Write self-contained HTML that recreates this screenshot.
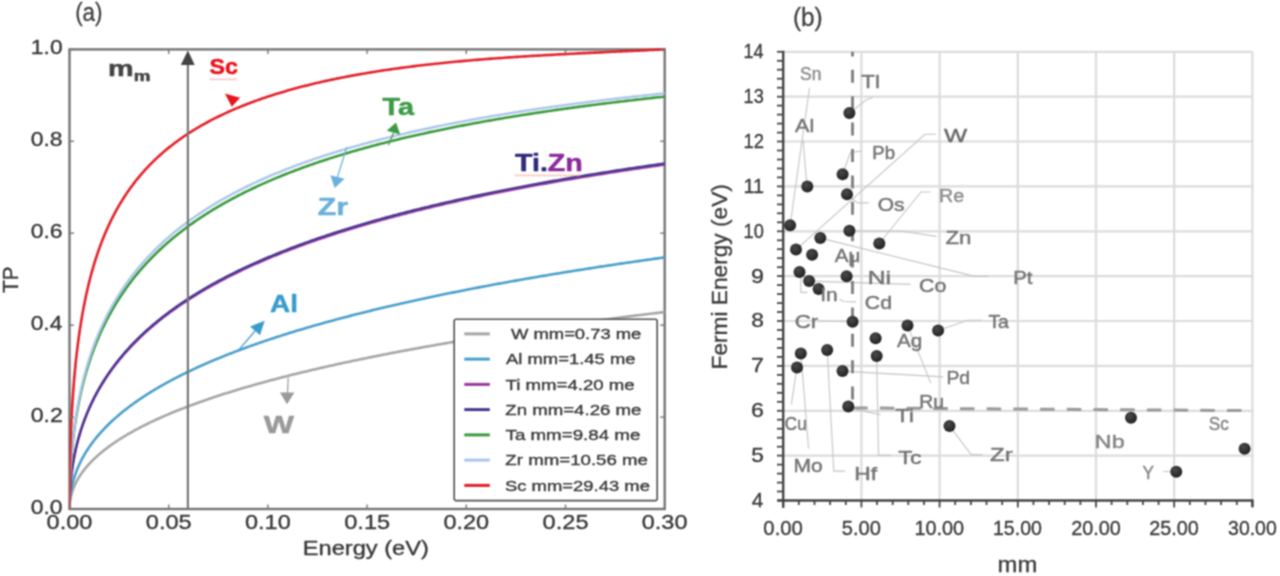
<!DOCTYPE html>
<html><head><meta charset="utf-8"><style>
html,body{margin:0;padding:0;background:#fff;}
svg{display:block;}
text{font-family:"Liberation Sans",sans-serif;}
</style></head><body>
<svg width="1280" height="576" viewBox="0 0 1280 576">
<defs><filter id="soft" filterUnits="userSpaceOnUse" x="0" y="0" width="1280" height="576" color-interpolation-filters="sRGB"><feConvolveMatrix order="3" kernelMatrix="1 2 1 2 4 2 1 2 1" divisor="16.0" edgeMode="duplicate"/></filter></defs>
<g filter="url(#soft)">
<rect width="1280" height="576" fill="#fff"/>
<defs><clipPath id="ca"><rect x="69.5" y="47.4" width="595.2" height="461.6"/></clipPath><radialGradient id="dot" cx="40%" cy="35%" r="65%"><stop offset="0" stop-color="#4a4a4a"/><stop offset="1" stop-color="#222"/></radialGradient></defs>
<text x="75.15" y="20.84" font-size="25.53" stroke="#404040" stroke-width="0.3" stroke-linejoin="round" fill="#404040" textLength="27.44" lengthAdjust="spacingAndGlyphs">(a)</text>
<rect x="69.5" y="49.4" width="595.2" height="459.6" fill="none" stroke="#767676" stroke-width="2.4"/>
<g clip-path="url(#ca)" fill="none" stroke-linejoin="round" stroke-linecap="round">
<path d="M69.50,509.00 L69.50,508.35 L69.51,507.69 L69.53,507.04 L69.56,506.39 L69.59,505.74 L69.63,505.09 L69.68,504.45 L69.74,503.80 L69.80,503.15 L69.87,502.51 L69.95,501.86 L70.04,501.22 L70.13,500.58 L70.23,499.94 L70.34,499.30 L70.46,498.66 L70.58,498.02 L70.71,497.38 L70.85,496.74 L71.00,496.11 L71.15,495.47 L71.31,494.84 L71.48,494.21 L71.65,493.57 L71.84,492.94 L72.03,492.31 L72.23,491.68 L72.43,491.05 L72.64,490.43 L72.86,489.80 L73.09,489.17 L73.33,488.55 L73.57,487.92 L73.82,487.30 L74.08,486.68 L74.35,486.06 L74.62,485.44 L74.90,484.82 L75.19,484.20 L75.48,483.58 L75.78,482.96 L76.10,482.35 L76.41,481.73 L76.74,481.12 L77.07,480.51 L77.41,479.89 L77.76,479.28 L78.11,478.67 L78.48,478.06 L78.85,477.45 L79.22,476.84 L79.61,476.24 L80.00,475.63 L80.40,475.02 L80.81,474.42 L81.22,473.82 L81.65,473.21 L82.08,472.61 L82.51,472.01 L82.96,471.41 L83.41,470.81 L83.87,470.21 L84.34,469.62 L84.81,469.02 L85.30,468.42 L85.79,467.83 L86.28,467.23 L86.79,466.64 L87.30,466.05 L87.82,465.46 L88.35,464.87 L88.88,464.28 L89.42,463.69 L89.97,463.10 L90.53,462.51 L91.09,461.93 L91.67,461.34 L92.25,460.76 L92.83,460.17 L93.43,459.59 L94.03,459.01 L94.64,458.43 L95.26,457.84 L95.88,457.27 L96.51,456.69 L97.15,456.11 L97.80,455.53 L98.45,454.96 L99.11,454.38 L99.78,453.81 L100.46,453.23 L101.14,452.66 L101.84,452.09 L102.53,451.52 L103.24,450.95 L103.96,450.38 L104.68,449.81 L105.41,449.24 L106.14,448.67 L106.89,448.11 L107.64,447.54 L108.40,446.98 L109.16,446.41 L109.94,445.85 L110.72,445.29 L111.51,444.73 L112.30,444.17 L113.11,443.61 L113.92,443.05 L114.74,442.49 L115.56,441.94 L116.40,441.38 L117.24,440.82 L118.09,440.27 L118.94,439.72 L119.81,439.16 L120.68,438.61 L121.56,438.06 L122.44,437.51 L123.34,436.96 L124.24,436.41 L125.15,435.86 L126.06,435.32 L126.99,434.77 L127.92,434.22 L128.86,433.68 L129.80,433.14 L130.75,432.59 L131.72,432.05 L132.68,431.51 L133.66,430.97 L134.64,430.43 L135.63,429.89 L136.63,429.35 L137.64,428.81 L138.65,428.28 L139.67,427.74 L140.70,427.21 L141.73,426.67 L142.78,426.14 L143.83,425.61 L144.89,425.07 L145.95,424.54 L147.03,424.01 L148.11,423.48 L149.19,422.95 L150.29,422.43 L151.39,421.90 L152.50,421.37 L153.62,420.85 L154.75,420.32 L155.88,419.80 L157.02,419.27 L158.17,418.75 L159.32,418.23 L160.48,417.71 L161.65,417.19 L162.83,416.67 L164.02,416.15 L165.21,415.63 L166.41,415.12 L167.62,414.60 L168.83,414.09 L170.06,413.57 L171.29,413.06 L172.52,412.54 L173.77,412.03 L175.02,411.52 L176.28,411.01 L177.55,410.50 L178.82,409.99 L180.10,409.48 L181.39,408.97 L182.69,408.47 L184.00,407.96 L185.31,407.45 L186.63,406.95 L187.96,406.45 L189.29,405.94 L190.63,405.44 L191.98,404.94 L193.34,404.44 L194.70,403.94 L196.08,403.44 L197.46,402.94 L198.84,402.44 L200.24,401.94 L201.64,401.45 L203.05,400.95 L204.47,400.46 L205.89,399.96 L207.32,399.47 L208.76,398.98 L210.21,398.49 L211.66,397.99 L213.12,397.50 L214.59,397.01 L216.07,396.52 L217.56,396.04 L219.05,395.55 L220.55,395.06 L222.05,394.58 L223.57,394.09 L225.09,393.61 L226.62,393.12 L228.15,392.64 L229.70,392.16 L231.25,391.68 L232.81,391.19 L234.38,390.71 L235.95,390.24 L237.53,389.76 L239.12,389.28 L240.72,388.80 L242.32,388.32 L243.93,387.85 L245.55,387.37 L247.18,386.90 L248.81,386.43 L250.45,385.95 L252.10,385.48 L253.76,385.01 L255.42,384.54 L257.09,384.07 L258.77,383.60 L260.46,383.13 L262.15,382.66 L263.85,382.20 L265.56,381.73 L267.28,381.26 L269.00,380.80 L270.73,380.33 L272.47,379.87 L274.21,379.41 L275.97,378.95 L277.73,378.48 L279.50,378.02 L281.27,377.56 L283.06,377.10 L284.85,376.65 L286.65,376.19 L288.45,375.73 L290.26,375.27 L292.09,374.82 L293.91,374.36 L295.75,373.91 L297.59,373.45 L299.44,373.00 L301.30,372.55 L303.17,372.10 L305.04,371.65 L306.92,371.20 L308.81,370.75 L310.70,370.30 L312.61,369.85 L314.52,369.40 L316.44,368.95 L318.36,368.51 L320.29,368.06 L322.23,367.62 L324.18,367.17 L326.14,366.73 L328.10,366.29 L330.07,365.85 L332.05,365.40 L334.03,364.96 L336.03,364.52 L338.03,364.08 L340.03,363.64 L342.05,363.21 L344.07,362.77 L346.10,362.33 L348.14,361.90 L350.18,361.46 L352.24,361.03 L354.30,360.59 L356.36,360.16 L358.44,359.73 L360.52,359.29 L362.61,358.86 L364.71,358.43 L366.81,358.00 L368.93,357.57 L371.05,357.14 L373.17,356.72 L375.31,356.29 L377.45,355.86 L379.60,355.44 L381.76,355.01 L383.92,354.59 L386.09,354.16 L388.27,353.74 L390.46,353.32 L392.66,352.89 L394.86,352.47 L397.07,352.05 L399.28,351.63 L401.51,351.21 L403.74,350.79 L405.98,350.37 L408.23,349.96 L410.48,349.54 L412.74,349.12 L415.01,348.71 L417.29,348.29 L419.57,347.88 L421.87,347.47 L424.17,347.05 L426.47,346.64 L428.79,346.23 L431.11,345.82 L433.44,345.41 L435.77,345.00 L438.12,344.59 L440.47,344.18 L442.83,343.77 L445.20,343.36 L447.57,342.96 L449.95,342.55 L452.34,342.15 L454.74,341.74 L457.14,341.34 L459.55,340.93 L461.97,340.53 L464.40,340.13 L466.83,339.73 L469.27,339.33 L471.72,338.92 L474.18,338.52 L476.64,338.13 L479.11,337.73 L481.59,337.33 L484.08,336.93 L486.57,336.54 L489.07,336.14 L491.58,335.74 L494.10,335.35 L496.62,334.95 L499.15,334.56 L501.69,334.17 L504.24,333.78 L506.79,333.38 L509.35,332.99 L511.92,332.60 L514.50,332.21 L517.08,331.82 L519.67,331.43 L522.27,331.05 L524.87,330.66 L527.49,330.27 L530.11,329.89 L532.74,329.50 L535.37,329.11 L538.02,328.73 L540.67,328.35 L543.32,327.96 L545.99,327.58 L548.66,327.20 L551.34,326.82 L554.03,326.44 L556.73,326.06 L559.43,325.68 L562.14,325.30 L564.86,324.92 L567.58,324.54 L570.32,324.16 L573.06,323.79 L575.81,323.41 L578.56,323.03 L581.32,322.66 L584.09,322.28 L586.87,321.91 L589.66,321.54 L592.45,321.16 L595.25,320.79 L598.06,320.42 L600.87,320.05 L603.70,319.68 L606.53,319.31 L609.36,318.94 L612.21,318.57 L615.06,318.20 L617.92,317.84 L620.79,317.47 L623.66,317.10 L626.55,316.74 L629.44,316.37 L632.33,316.01 L635.24,315.64 L638.15,315.28 L641.07,314.92 L644.00,314.56 L646.93,314.19 L649.88,313.83 L652.83,313.47 L655.78,313.11 L658.75,312.75 L661.72,312.39 L664.70,312.04" stroke="#a6a6a6" stroke-width="2.6"/>
<path d="M69.50,509.00 L69.50,508.09 L69.51,507.17 L69.53,506.26 L69.56,505.35 L69.59,504.45 L69.63,503.54 L69.68,502.64 L69.74,501.74 L69.80,500.84 L69.87,499.94 L69.95,499.04 L70.04,498.15 L70.13,497.25 L70.23,496.36 L70.34,495.47 L70.46,494.59 L70.58,493.70 L70.71,492.82 L70.85,491.94 L71.00,491.05 L71.15,490.18 L71.31,489.30 L71.48,488.42 L71.65,487.55 L71.84,486.68 L72.03,485.81 L72.23,484.94 L72.43,484.07 L72.64,483.21 L72.86,482.35 L73.09,481.49 L73.33,480.63 L73.57,479.77 L73.82,478.91 L74.08,478.06 L74.35,477.20 L74.62,476.35 L74.90,475.50 L75.19,474.66 L75.48,473.81 L75.78,472.97 L76.10,472.12 L76.41,471.28 L76.74,470.44 L77.07,469.61 L77.41,468.77 L77.76,467.94 L78.11,467.10 L78.48,466.27 L78.85,465.44 L79.22,464.62 L79.61,463.79 L80.00,462.97 L80.40,462.14 L80.81,461.32 L81.22,460.50 L81.65,459.68 L82.08,458.87 L82.51,458.05 L82.96,457.24 L83.41,456.43 L83.87,455.62 L84.34,454.81 L84.81,454.01 L85.30,453.20 L85.79,452.40 L86.28,451.60 L86.79,450.80 L87.30,450.00 L87.82,449.20 L88.35,448.41 L88.88,447.61 L89.42,446.82 L89.97,446.03 L90.53,445.24 L91.09,444.45 L91.67,443.67 L92.25,442.88 L92.83,442.10 L93.43,441.32 L94.03,440.54 L94.64,439.76 L95.26,438.99 L95.88,438.21 L96.51,437.44 L97.15,436.67 L97.80,435.90 L98.45,435.13 L99.11,434.36 L99.78,433.59 L100.46,432.83 L101.14,432.07 L101.84,431.31 L102.53,430.55 L103.24,429.79 L103.96,429.03 L104.68,428.28 L105.41,427.52 L106.14,426.77 L106.89,426.02 L107.64,425.27 L108.40,424.53 L109.16,423.78 L109.94,423.04 L110.72,422.29 L111.51,421.55 L112.30,420.81 L113.11,420.07 L113.92,419.34 L114.74,418.60 L115.56,417.87 L116.40,417.13 L117.24,416.40 L118.09,415.67 L118.94,414.94 L119.81,414.22 L120.68,413.49 L121.56,412.77 L122.44,412.04 L123.34,411.32 L124.24,410.60 L125.15,409.89 L126.06,409.17 L126.99,408.45 L127.92,407.74 L128.86,407.03 L129.80,406.32 L130.75,405.61 L131.72,404.90 L132.68,404.19 L133.66,403.49 L134.64,402.78 L135.63,402.08 L136.63,401.38 L137.64,400.68 L138.65,399.98 L139.67,399.28 L140.70,398.59 L141.73,397.89 L142.78,397.20 L143.83,396.51 L144.89,395.82 L145.95,395.13 L147.03,394.44 L148.11,393.76 L149.19,393.07 L150.29,392.39 L151.39,391.71 L152.50,391.03 L153.62,390.35 L154.75,389.67 L155.88,389.00 L157.02,388.32 L158.17,387.65 L159.32,386.98 L160.48,386.30 L161.65,385.63 L162.83,384.97 L164.02,384.30 L165.21,383.63 L166.41,382.97 L167.62,382.31 L168.83,381.65 L170.06,380.98 L171.29,380.33 L172.52,379.67 L173.77,379.01 L175.02,378.36 L176.28,377.70 L177.55,377.05 L178.82,376.40 L180.10,375.75 L181.39,375.10 L182.69,374.45 L184.00,373.81 L185.31,373.16 L186.63,372.52 L187.96,371.88 L189.29,371.24 L190.63,370.60 L191.98,369.96 L193.34,369.32 L194.70,368.69 L196.08,368.05 L197.46,367.42 L198.84,366.79 L200.24,366.16 L201.64,365.53 L203.05,364.90 L204.47,364.27 L205.89,363.65 L207.32,363.02 L208.76,362.40 L210.21,361.78 L211.66,361.16 L213.12,360.54 L214.59,359.92 L216.07,359.30 L217.56,358.69 L219.05,358.08 L220.55,357.46 L222.05,356.85 L223.57,356.24 L225.09,355.63 L226.62,355.02 L228.15,354.41 L229.70,353.81 L231.25,353.20 L232.81,352.60 L234.38,352.00 L235.95,351.40 L237.53,350.80 L239.12,350.20 L240.72,349.60 L242.32,349.01 L243.93,348.41 L245.55,347.82 L247.18,347.23 L248.81,346.63 L250.45,346.04 L252.10,345.45 L253.76,344.87 L255.42,344.28 L257.09,343.69 L258.77,343.11 L260.46,342.53 L262.15,341.95 L263.85,341.36 L265.56,340.78 L267.28,340.21 L269.00,339.63 L270.73,339.05 L272.47,338.48 L274.21,337.90 L275.97,337.33 L277.73,336.76 L279.50,336.19 L281.27,335.62 L283.06,335.05 L284.85,334.49 L286.65,333.92 L288.45,333.35 L290.26,332.79 L292.09,332.23 L293.91,331.67 L295.75,331.11 L297.59,330.55 L299.44,329.99 L301.30,329.43 L303.17,328.88 L305.04,328.32 L306.92,327.77 L308.81,327.22 L310.70,326.67 L312.61,326.12 L314.52,325.57 L316.44,325.02 L318.36,324.47 L320.29,323.93 L322.23,323.38 L324.18,322.84 L326.14,322.29 L328.10,321.75 L330.07,321.21 L332.05,320.67 L334.03,320.14 L336.03,319.60 L338.03,319.06 L340.03,318.53 L342.05,317.99 L344.07,317.46 L346.10,316.93 L348.14,316.40 L350.18,315.87 L352.24,315.34 L354.30,314.81 L356.36,314.29 L358.44,313.76 L360.52,313.24 L362.61,312.71 L364.71,312.19 L366.81,311.67 L368.93,311.15 L371.05,310.63 L373.17,310.11 L375.31,309.60 L377.45,309.08 L379.60,308.57 L381.76,308.05 L383.92,307.54 L386.09,307.03 L388.27,306.52 L390.46,306.01 L392.66,305.50 L394.86,304.99 L397.07,304.48 L399.28,303.98 L401.51,303.47 L403.74,302.97 L405.98,302.47 L408.23,301.96 L410.48,301.46 L412.74,300.96 L415.01,300.47 L417.29,299.97 L419.57,299.47 L421.87,298.98 L424.17,298.48 L426.47,297.99 L428.79,297.49 L431.11,297.00 L433.44,296.51 L435.77,296.02 L438.12,295.53 L440.47,295.05 L442.83,294.56 L445.20,294.07 L447.57,293.59 L449.95,293.10 L452.34,292.62 L454.74,292.14 L457.14,291.66 L459.55,291.18 L461.97,290.70 L464.40,290.22 L466.83,289.74 L469.27,289.27 L471.72,288.79 L474.18,288.32 L476.64,287.85 L479.11,287.37 L481.59,286.90 L484.08,286.43 L486.57,285.96 L489.07,285.49 L491.58,285.03 L494.10,284.56 L496.62,284.09 L499.15,283.63 L501.69,283.17 L504.24,282.70 L506.79,282.24 L509.35,281.78 L511.92,281.32 L514.50,280.86 L517.08,280.40 L519.67,279.94 L522.27,279.49 L524.87,279.03 L527.49,278.58 L530.11,278.12 L532.74,277.67 L535.37,277.22 L538.02,276.77 L540.67,276.32 L543.32,275.87 L545.99,275.42 L548.66,274.97 L551.34,274.53 L554.03,274.08 L556.73,273.64 L559.43,273.19 L562.14,272.75 L564.86,272.31 L567.58,271.87 L570.32,271.43 L573.06,270.99 L575.81,270.55 L578.56,270.11 L581.32,269.67 L584.09,269.24 L586.87,268.80 L589.66,268.37 L592.45,267.94 L595.25,267.50 L598.06,267.07 L600.87,266.64 L603.70,266.21 L606.53,265.78 L609.36,265.35 L612.21,264.93 L615.06,264.50 L617.92,264.07 L620.79,263.65 L623.66,263.23 L626.55,262.80 L629.44,262.38 L632.33,261.96 L635.24,261.54 L638.15,261.12 L641.07,260.70 L644.00,260.28 L646.93,259.87 L649.88,259.45 L652.83,259.03 L655.78,258.62 L658.75,258.21 L661.72,257.79 L664.70,257.38" stroke="#4a9fcb" stroke-width="2.6"/>
<path d="M69.50,509.00 L69.50,507.44 L69.51,505.89 L69.53,504.34 L69.56,502.80 L69.59,501.27 L69.63,499.73 L69.68,498.21 L69.74,496.69 L69.80,495.17 L69.87,493.66 L69.95,492.16 L70.04,490.66 L70.13,489.16 L70.23,487.67 L70.34,486.18 L70.46,484.70 L70.58,483.23 L70.71,481.76 L70.85,480.29 L71.00,478.83 L71.15,477.38 L71.31,475.93 L71.48,474.48 L71.65,473.04 L71.84,471.61 L72.03,470.17 L72.23,468.75 L72.43,467.33 L72.64,465.91 L72.86,464.50 L73.09,463.09 L73.33,461.69 L73.57,460.29 L73.82,458.90 L74.08,457.51 L74.35,456.13 L74.62,454.75 L74.90,453.37 L75.19,452.00 L75.48,450.64 L75.78,449.28 L76.10,447.92 L76.41,446.57 L76.74,445.22 L77.07,443.88 L77.41,442.54 L77.76,441.21 L78.11,439.88 L78.48,438.56 L78.85,437.24 L79.22,435.92 L79.61,434.61 L80.00,433.30 L80.40,432.00 L80.81,430.70 L81.22,429.41 L81.65,428.12 L82.08,426.84 L82.51,425.56 L82.96,424.28 L83.41,423.01 L83.87,421.74 L84.34,420.48 L84.81,419.22 L85.30,417.96 L85.79,416.71 L86.28,415.46 L86.79,414.22 L87.30,412.98 L87.82,411.75 L88.35,410.52 L88.88,409.29 L89.42,408.07 L89.97,406.85 L90.53,405.64 L91.09,404.43 L91.67,403.22 L92.25,402.02 L92.83,400.82 L93.43,399.63 L94.03,398.44 L94.64,397.25 L95.26,396.07 L95.88,394.89 L96.51,393.72 L97.15,392.55 L97.80,391.38 L98.45,390.22 L99.11,389.06 L99.78,387.91 L100.46,386.76 L101.14,385.61 L101.84,384.47 L102.53,383.33 L103.24,382.19 L103.96,381.06 L104.68,379.93 L105.41,378.81 L106.14,377.69 L106.89,376.57 L107.64,375.46 L108.40,374.35 L109.16,373.24 L109.94,372.14 L110.72,371.04 L111.51,369.95 L112.30,368.86 L113.11,367.77 L113.92,366.69 L114.74,365.61 L115.56,364.53 L116.40,363.46 L117.24,362.39 L118.09,361.32 L118.94,360.26 L119.81,359.20 L120.68,358.15 L121.56,357.09 L122.44,356.04 L123.34,355.00 L124.24,353.96 L125.15,352.92 L126.06,351.89 L126.99,350.85 L127.92,349.83 L128.86,348.80 L129.80,347.78 L130.75,346.76 L131.72,345.75 L132.68,344.74 L133.66,343.73 L134.64,342.73 L135.63,341.73 L136.63,340.73 L137.64,339.74 L138.65,338.74 L139.67,337.76 L140.70,336.77 L141.73,335.79 L142.78,334.81 L143.83,333.84 L144.89,332.87 L145.95,331.90 L147.03,330.93 L148.11,329.97 L149.19,329.01 L150.29,328.06 L151.39,327.11 L152.50,326.16 L153.62,325.21 L154.75,324.27 L155.88,323.33 L157.02,322.39 L158.17,321.46 L159.32,320.53 L160.48,319.60 L161.65,318.68 L162.83,317.75 L164.02,316.84 L165.21,315.92 L166.41,315.01 L167.62,314.10 L168.83,313.19 L170.06,312.29 L171.29,311.39 L172.52,310.49 L173.77,309.60 L175.02,308.71 L176.28,307.82 L177.55,306.93 L178.82,306.05 L180.10,305.17 L181.39,304.29 L182.69,303.42 L184.00,302.55 L185.31,301.68 L186.63,300.81 L187.96,299.95 L189.29,299.09 L190.63,298.23 L191.98,297.38 L193.34,296.53 L194.70,295.68 L196.08,294.83 L197.46,293.99 L198.84,293.15 L200.24,292.31 L201.64,291.48 L203.05,290.65 L204.47,289.82 L205.89,288.99 L207.32,288.17 L208.76,287.35 L210.21,286.53 L211.66,285.71 L213.12,284.90 L214.59,284.09 L216.07,283.28 L217.56,282.48 L219.05,281.68 L220.55,280.88 L222.05,280.08 L223.57,279.28 L225.09,278.49 L226.62,277.70 L228.15,276.92 L229.70,276.13 L231.25,275.35 L232.81,274.57 L234.38,273.80 L235.95,273.02 L237.53,272.25 L239.12,271.48 L240.72,270.72 L242.32,269.95 L243.93,269.19 L245.55,268.43 L247.18,267.68 L248.81,266.92 L250.45,266.17 L252.10,265.42 L253.76,264.68 L255.42,263.93 L257.09,263.19 L258.77,262.45 L260.46,261.72 L262.15,260.98 L263.85,260.25 L265.56,259.52 L267.28,258.79 L269.00,258.07 L270.73,257.35 L272.47,256.63 L274.21,255.91 L275.97,255.19 L277.73,254.48 L279.50,253.77 L281.27,253.06 L283.06,252.36 L284.85,251.65 L286.65,250.95 L288.45,250.25 L290.26,249.56 L292.09,248.86 L293.91,248.17 L295.75,247.48 L297.59,246.79 L299.44,246.11 L301.30,245.42 L303.17,244.74 L305.04,244.06 L306.92,243.39 L308.81,242.71 L310.70,242.04 L312.61,241.37 L314.52,240.70 L316.44,240.04 L318.36,239.38 L320.29,238.71 L322.23,238.06 L324.18,237.40 L326.14,236.74 L328.10,236.09 L330.07,235.44 L332.05,234.79 L334.03,234.15 L336.03,233.50 L338.03,232.86 L340.03,232.22 L342.05,231.58 L344.07,230.95 L346.10,230.31 L348.14,229.68 L350.18,229.05 L352.24,228.43 L354.30,227.80 L356.36,227.18 L358.44,226.56 L360.52,225.94 L362.61,225.32 L364.71,224.70 L366.81,224.09 L368.93,223.48 L371.05,222.87 L373.17,222.26 L375.31,221.66 L377.45,221.06 L379.60,220.45 L381.76,219.85 L383.92,219.26 L386.09,218.66 L388.27,218.07 L390.46,217.48 L392.66,216.89 L394.86,216.30 L397.07,215.71 L399.28,215.13 L401.51,214.55 L403.74,213.97 L405.98,213.39 L408.23,212.81 L410.48,212.24 L412.74,211.67 L415.01,211.10 L417.29,210.53 L419.57,209.96 L421.87,209.40 L424.17,208.83 L426.47,208.27 L428.79,207.71 L431.11,207.15 L433.44,206.60 L435.77,206.04 L438.12,205.49 L440.47,204.94 L442.83,204.39 L445.20,203.85 L447.57,203.30 L449.95,202.76 L452.34,202.22 L454.74,201.68 L457.14,201.14 L459.55,200.60 L461.97,200.07 L464.40,199.54 L466.83,199.00 L469.27,198.48 L471.72,197.95 L474.18,197.42 L476.64,196.90 L479.11,196.38 L481.59,195.86 L484.08,195.34 L486.57,194.82 L489.07,194.30 L491.58,193.79 L494.10,193.28 L496.62,192.77 L499.15,192.26 L501.69,191.75 L504.24,191.24 L506.79,190.74 L509.35,190.24 L511.92,189.74 L514.50,189.24 L517.08,188.74 L519.67,188.25 L522.27,187.75 L524.87,187.26 L527.49,186.77 L530.11,186.28 L532.74,185.79 L535.37,185.31 L538.02,184.82 L540.67,184.34 L543.32,183.86 L545.99,183.38 L548.66,182.90 L551.34,182.42 L554.03,181.95 L556.73,181.47 L559.43,181.00 L562.14,180.53 L564.86,180.06 L567.58,179.59 L570.32,179.13 L573.06,178.66 L575.81,178.20 L578.56,177.74 L581.32,177.28 L584.09,176.82 L586.87,176.37 L589.66,175.91 L592.45,175.46 L595.25,175.00 L598.06,174.55 L600.87,174.10 L603.70,173.66 L606.53,173.21 L609.36,172.76 L612.21,172.32 L615.06,171.88 L617.92,171.44 L620.79,171.00 L623.66,170.56 L626.55,170.12 L629.44,169.69 L632.33,169.26 L635.24,168.82 L638.15,168.39 L641.07,167.96 L644.00,167.54 L646.93,167.11 L649.88,166.68 L652.83,166.26 L655.78,165.84 L658.75,165.42 L661.72,165.00 L664.70,164.58" stroke="#9a3aa0" stroke-width="2.6"/>
<path d="M69.50,509.00 L69.50,507.43 L69.51,505.87 L69.53,504.31 L69.56,502.76 L69.59,501.21 L69.63,499.67 L69.68,498.13 L69.74,496.60 L69.80,495.08 L69.87,493.55 L69.95,492.04 L70.04,490.53 L70.13,489.02 L70.23,487.52 L70.34,486.03 L70.46,484.54 L70.58,483.05 L70.71,481.57 L70.85,480.10 L71.00,478.63 L71.15,477.16 L71.31,475.70 L71.48,474.25 L71.65,472.80 L71.84,471.35 L72.03,469.91 L72.23,468.47 L72.43,467.04 L72.64,465.62 L72.86,464.20 L73.09,462.78 L73.33,461.37 L73.57,459.96 L73.82,458.56 L74.08,457.17 L74.35,455.77 L74.62,454.39 L74.90,453.00 L75.19,451.62 L75.48,450.25 L75.78,448.88 L76.10,447.52 L76.41,446.16 L76.74,444.80 L77.07,443.45 L77.41,442.11 L77.76,440.77 L78.11,439.43 L78.48,438.10 L78.85,436.77 L79.22,435.45 L79.61,434.13 L80.00,432.81 L80.40,431.50 L80.81,430.20 L81.22,428.90 L81.65,427.60 L82.08,426.31 L82.51,425.02 L82.96,423.74 L83.41,422.46 L83.87,421.18 L84.34,419.91 L84.81,418.64 L85.30,417.38 L85.79,416.12 L86.28,414.87 L86.79,413.62 L87.30,412.38 L87.82,411.13 L88.35,409.90 L88.88,408.66 L89.42,407.44 L89.97,406.21 L90.53,404.99 L91.09,403.77 L91.67,402.56 L92.25,401.35 L92.83,400.15 L93.43,398.95 L94.03,397.75 L94.64,396.56 L95.26,395.37 L95.88,394.19 L96.51,393.01 L97.15,391.83 L97.80,390.66 L98.45,389.49 L99.11,388.33 L99.78,387.17 L100.46,386.01 L101.14,384.86 L101.84,383.71 L102.53,382.57 L103.24,381.43 L103.96,380.29 L104.68,379.16 L105.41,378.03 L106.14,376.90 L106.89,375.78 L107.64,374.66 L108.40,373.54 L109.16,372.43 L109.94,371.33 L110.72,370.22 L111.51,369.12 L112.30,368.03 L113.11,366.94 L113.92,365.85 L114.74,364.76 L115.56,363.68 L116.40,362.60 L117.24,361.53 L118.09,360.46 L118.94,359.39 L119.81,358.33 L120.68,357.27 L121.56,356.21 L122.44,355.16 L123.34,354.11 L124.24,353.06 L125.15,352.02 L126.06,350.98 L126.99,349.94 L127.92,348.91 L128.86,347.88 L129.80,346.86 L130.75,345.84 L131.72,344.82 L132.68,343.80 L133.66,342.79 L134.64,341.78 L135.63,340.78 L136.63,339.78 L137.64,338.78 L138.65,337.78 L139.67,336.79 L140.70,335.80 L141.73,334.82 L142.78,333.84 L143.83,332.86 L144.89,331.88 L145.95,330.91 L147.03,329.94 L148.11,328.98 L149.19,328.02 L150.29,327.06 L151.39,326.10 L152.50,325.15 L153.62,324.20 L154.75,323.25 L155.88,322.31 L157.02,321.37 L158.17,320.43 L159.32,319.50 L160.48,318.57 L161.65,317.64 L162.83,316.72 L164.02,315.79 L165.21,314.88 L166.41,313.96 L167.62,313.05 L168.83,312.14 L170.06,311.23 L171.29,310.33 L172.52,309.43 L173.77,308.53 L175.02,307.64 L176.28,306.75 L177.55,305.86 L178.82,304.97 L180.10,304.09 L181.39,303.21 L182.69,302.33 L184.00,301.46 L185.31,300.59 L186.63,299.72 L187.96,298.85 L189.29,297.99 L190.63,297.13 L191.98,296.28 L193.34,295.42 L194.70,294.57 L196.08,293.72 L197.46,292.88 L198.84,292.04 L200.24,291.20 L201.64,290.36 L203.05,289.52 L204.47,288.69 L205.89,287.86 L207.32,287.04 L208.76,286.22 L210.21,285.39 L211.66,284.58 L213.12,283.76 L214.59,282.95 L216.07,282.14 L217.56,281.33 L219.05,280.53 L220.55,279.73 L222.05,278.93 L223.57,278.13 L225.09,277.34 L226.62,276.55 L228.15,275.76 L229.70,274.97 L231.25,274.19 L232.81,273.41 L234.38,272.63 L235.95,271.85 L237.53,271.08 L239.12,270.31 L240.72,269.54 L242.32,268.78 L243.93,268.01 L245.55,267.25 L247.18,266.50 L248.81,265.74 L250.45,264.99 L252.10,264.24 L253.76,263.49 L255.42,262.74 L257.09,262.00 L258.77,261.26 L260.46,260.52 L262.15,259.79 L263.85,259.05 L265.56,258.32 L267.28,257.59 L269.00,256.87 L270.73,256.14 L272.47,255.42 L274.21,254.70 L275.97,253.99 L277.73,253.27 L279.50,252.56 L281.27,251.85 L283.06,251.15 L284.85,250.44 L286.65,249.74 L288.45,249.04 L290.26,248.34 L292.09,247.64 L293.91,246.95 L295.75,246.26 L297.59,245.57 L299.44,244.89 L301.30,244.20 L303.17,243.52 L305.04,242.84 L306.92,242.16 L308.81,241.49 L310.70,240.81 L312.61,240.14 L314.52,239.48 L316.44,238.81 L318.36,238.14 L320.29,237.48 L322.23,236.82 L324.18,236.17 L326.14,235.51 L328.10,234.86 L330.07,234.21 L332.05,233.56 L334.03,232.91 L336.03,232.27 L338.03,231.62 L340.03,230.98 L342.05,230.34 L344.07,229.71 L346.10,229.07 L348.14,228.44 L350.18,227.81 L352.24,227.18 L354.30,226.56 L356.36,225.93 L358.44,225.31 L360.52,224.69 L362.61,224.07 L364.71,223.46 L366.81,222.84 L368.93,222.23 L371.05,221.62 L373.17,221.02 L375.31,220.41 L377.45,219.81 L379.60,219.21 L381.76,218.61 L383.92,218.01 L386.09,217.41 L388.27,216.82 L390.46,216.23 L392.66,215.64 L394.86,215.05 L397.07,214.46 L399.28,213.88 L401.51,213.30 L403.74,212.72 L405.98,212.14 L408.23,211.56 L410.48,210.99 L412.74,210.41 L415.01,209.84 L417.29,209.27 L419.57,208.71 L421.87,208.14 L424.17,207.58 L426.47,207.02 L428.79,206.46 L431.11,205.90 L433.44,205.34 L435.77,204.79 L438.12,204.24 L440.47,203.69 L442.83,203.14 L445.20,202.59 L447.57,202.05 L449.95,201.50 L452.34,200.96 L454.74,200.42 L457.14,199.88 L459.55,199.35 L461.97,198.81 L464.40,198.28 L466.83,197.75 L469.27,197.22 L471.72,196.69 L474.18,196.17 L476.64,195.64 L479.11,195.12 L481.59,194.60 L484.08,194.08 L486.57,193.57 L489.07,193.05 L491.58,192.54 L494.10,192.02 L496.62,191.51 L499.15,191.01 L501.69,190.50 L504.24,189.99 L506.79,189.49 L509.35,188.99 L511.92,188.49 L514.50,187.99 L517.08,187.49 L519.67,187.00 L522.27,186.50 L524.87,186.01 L527.49,185.52 L530.11,185.03 L532.74,184.54 L535.37,184.06 L538.02,183.57 L540.67,183.09 L543.32,182.61 L545.99,182.13 L548.66,181.65 L551.34,181.18 L554.03,180.70 L556.73,180.23 L559.43,179.76 L562.14,179.29 L564.86,178.82 L567.58,178.35 L570.32,177.89 L573.06,177.42 L575.81,176.96 L578.56,176.50 L581.32,176.04 L584.09,175.58 L586.87,175.13 L589.66,174.67 L592.45,174.22 L595.25,173.77 L598.06,173.32 L600.87,172.87 L603.70,172.42 L606.53,171.97 L609.36,171.53 L612.21,171.09 L615.06,170.64 L617.92,170.20 L620.79,169.77 L623.66,169.33 L626.55,168.89 L629.44,168.46 L632.33,168.03 L635.24,167.59 L638.15,167.16 L641.07,166.74 L644.00,166.31 L646.93,165.88 L649.88,165.46 L652.83,165.04 L655.78,164.61 L658.75,164.19 L661.72,163.78 L664.70,163.36" stroke="#45378f" stroke-width="2.2"/>
<path d="M69.50,509.00 L69.50,506.58 L69.51,504.17 L69.53,501.77 L69.56,499.39 L69.59,497.02 L69.63,494.66 L69.68,492.31 L69.74,489.98 L69.80,487.66 L69.87,485.35 L69.95,483.05 L70.04,480.76 L70.13,478.49 L70.23,476.23 L70.34,473.98 L70.46,471.74 L70.58,469.51 L70.71,467.30 L70.85,465.09 L71.00,462.90 L71.15,460.72 L71.31,458.55 L71.48,456.40 L71.65,454.25 L71.84,452.11 L72.03,449.99 L72.23,447.88 L72.43,445.78 L72.64,443.68 L72.86,441.60 L73.09,439.53 L73.33,437.48 L73.57,435.43 L73.82,433.39 L74.08,431.36 L74.35,429.35 L74.62,427.34 L74.90,425.35 L75.19,423.36 L75.48,421.39 L75.78,419.42 L76.10,417.47 L76.41,415.52 L76.74,413.59 L77.07,411.67 L77.41,409.75 L77.76,407.85 L78.11,405.95 L78.48,404.07 L78.85,402.19 L79.22,400.33 L79.61,398.47 L80.00,396.63 L80.40,394.79 L80.81,392.96 L81.22,391.15 L81.65,389.34 L82.08,387.54 L82.51,385.75 L82.96,383.97 L83.41,382.20 L83.87,380.43 L84.34,378.68 L84.81,376.94 L85.30,375.20 L85.79,373.48 L86.28,371.76 L86.79,370.05 L87.30,368.35 L87.82,366.66 L88.35,364.98 L88.88,363.30 L89.42,361.64 L89.97,359.98 L90.53,358.33 L91.09,356.69 L91.67,355.06 L92.25,353.44 L92.83,351.82 L93.43,350.21 L94.03,348.62 L94.64,347.02 L95.26,345.44 L95.88,343.87 L96.51,342.30 L97.15,340.74 L97.80,339.19 L98.45,337.65 L99.11,336.12 L99.78,334.59 L100.46,333.07 L101.14,331.56 L101.84,330.06 L102.53,328.56 L103.24,327.07 L103.96,325.59 L104.68,324.12 L105.41,322.65 L106.14,321.20 L106.89,319.75 L107.64,318.30 L108.40,316.87 L109.16,315.44 L109.94,314.02 L110.72,312.60 L111.51,311.19 L112.30,309.79 L113.11,308.40 L113.92,307.02 L114.74,305.64 L115.56,304.27 L116.40,302.90 L117.24,301.54 L118.09,300.19 L118.94,298.85 L119.81,297.51 L120.68,296.18 L121.56,294.85 L122.44,293.54 L123.34,292.23 L124.24,290.92 L125.15,289.63 L126.06,288.33 L126.99,287.05 L127.92,285.77 L128.86,284.50 L129.80,283.24 L130.75,281.98 L131.72,280.73 L132.68,279.48 L133.66,278.24 L134.64,277.01 L135.63,275.78 L136.63,274.56 L137.64,273.34 L138.65,272.14 L139.67,270.93 L140.70,269.74 L141.73,268.55 L142.78,267.36 L143.83,266.18 L144.89,265.01 L145.95,263.84 L147.03,262.68 L148.11,261.53 L149.19,260.38 L150.29,259.24 L151.39,258.10 L152.50,256.97 L153.62,255.84 L154.75,254.72 L155.88,253.60 L157.02,252.50 L158.17,251.39 L159.32,250.29 L160.48,249.20 L161.65,248.11 L162.83,247.03 L164.02,245.96 L165.21,244.89 L166.41,243.82 L167.62,242.76 L168.83,241.70 L170.06,240.66 L171.29,239.61 L172.52,238.57 L173.77,237.54 L175.02,236.51 L176.28,235.49 L177.55,234.47 L178.82,233.45 L180.10,232.45 L181.39,231.44 L182.69,230.45 L184.00,229.45 L185.31,228.46 L186.63,227.48 L187.96,226.50 L189.29,225.53 L190.63,224.56 L191.98,223.60 L193.34,222.64 L194.70,221.69 L196.08,220.74 L197.46,219.79 L198.84,218.85 L200.24,217.92 L201.64,216.99 L203.05,216.06 L204.47,215.14 L205.89,214.23 L207.32,213.31 L208.76,212.41 L210.21,211.50 L211.66,210.61 L213.12,209.71 L214.59,208.82 L216.07,207.94 L217.56,207.06 L219.05,206.18 L220.55,205.31 L222.05,204.44 L223.57,203.58 L225.09,202.72 L226.62,201.87 L228.15,201.02 L229.70,200.17 L231.25,199.33 L232.81,198.50 L234.38,197.66 L235.95,196.83 L237.53,196.01 L239.12,195.19 L240.72,194.37 L242.32,193.56 L243.93,192.75 L245.55,191.95 L247.18,191.15 L248.81,190.35 L250.45,189.56 L252.10,188.77 L253.76,187.99 L255.42,187.21 L257.09,186.43 L258.77,185.66 L260.46,184.89 L262.15,184.13 L263.85,183.37 L265.56,182.61 L267.28,181.86 L269.00,181.11 L270.73,180.36 L272.47,179.62 L274.21,178.88 L275.97,178.15 L277.73,177.41 L279.50,176.69 L281.27,175.96 L283.06,175.24 L284.85,174.53 L286.65,173.82 L288.45,173.11 L290.26,172.40 L292.09,171.70 L293.91,171.00 L295.75,170.30 L297.59,169.61 L299.44,168.93 L301.30,168.24 L303.17,167.56 L305.04,166.88 L306.92,166.21 L308.81,165.54 L310.70,164.87 L312.61,164.20 L314.52,163.54 L316.44,162.89 L318.36,162.23 L320.29,161.58 L322.23,160.93 L324.18,160.29 L326.14,159.65 L328.10,159.01 L330.07,158.38 L332.05,157.74 L334.03,157.12 L336.03,156.49 L338.03,155.87 L340.03,155.25 L342.05,154.63 L344.07,154.02 L346.10,153.41 L348.14,152.80 L350.18,152.20 L352.24,151.60 L354.30,151.00 L356.36,150.41 L358.44,149.82 L360.52,149.23 L362.61,148.64 L364.71,148.06 L366.81,147.48 L368.93,146.91 L371.05,146.33 L373.17,145.76 L375.31,145.19 L377.45,144.63 L379.60,144.07 L381.76,143.51 L383.92,142.95 L386.09,142.40 L388.27,141.85 L390.46,141.30 L392.66,140.75 L394.86,140.21 L397.07,139.67 L399.28,139.13 L401.51,138.60 L403.74,138.07 L405.98,137.54 L408.23,137.01 L410.48,136.49 L412.74,135.97 L415.01,135.45 L417.29,134.93 L419.57,134.42 L421.87,133.91 L424.17,133.40 L426.47,132.90 L428.79,132.39 L431.11,131.89 L433.44,131.40 L435.77,130.90 L438.12,130.41 L440.47,129.92 L442.83,129.43 L445.20,128.95 L447.57,128.46 L449.95,127.98 L452.34,127.51 L454.74,127.03 L457.14,126.56 L459.55,126.09 L461.97,125.62 L464.40,125.15 L466.83,124.69 L469.27,124.23 L471.72,123.77 L474.18,123.31 L476.64,122.86 L479.11,122.41 L481.59,121.96 L484.08,121.51 L486.57,121.07 L489.07,120.63 L491.58,120.19 L494.10,119.75 L496.62,119.31 L499.15,118.88 L501.69,118.45 L504.24,118.02 L506.79,117.59 L509.35,117.17 L511.92,116.75 L514.50,116.33 L517.08,115.91 L519.67,115.49 L522.27,115.08 L524.87,114.67 L527.49,114.26 L530.11,113.85 L532.74,113.45 L535.37,113.04 L538.02,112.64 L540.67,112.24 L543.32,111.85 L545.99,111.45 L548.66,111.06 L551.34,110.67 L554.03,110.28 L556.73,109.89 L559.43,109.51 L562.14,109.13 L564.86,108.75 L567.58,108.37 L570.32,107.99 L573.06,107.62 L575.81,107.24 L578.56,106.87 L581.32,106.50 L584.09,106.14 L586.87,105.77 L589.66,105.41 L592.45,105.05 L595.25,104.69 L598.06,104.33 L600.87,103.97 L603.70,103.62 L606.53,103.27 L609.36,102.92 L612.21,102.57 L615.06,102.22 L617.92,101.88 L620.79,101.54 L623.66,101.20 L626.55,100.86 L629.44,100.52 L632.33,100.18 L635.24,99.85 L638.15,99.52 L641.07,99.19 L644.00,98.86 L646.93,98.53 L649.88,98.21 L652.83,97.88 L655.78,97.56 L658.75,97.24 L661.72,96.92 L664.70,96.61" stroke="#3a9a3e" stroke-width="2.6"/>
<path d="M69.50,509.00 L69.50,506.51 L69.51,504.03 L69.53,501.57 L69.56,499.12 L69.59,496.68 L69.63,494.26 L69.68,491.85 L69.74,489.45 L69.80,487.07 L69.87,484.70 L69.95,482.34 L70.04,479.99 L70.13,477.66 L70.23,475.34 L70.34,473.03 L70.46,470.73 L70.58,468.45 L70.71,466.18 L70.85,463.92 L71.00,461.67 L71.15,459.44 L71.31,457.22 L71.48,455.01 L71.65,452.81 L71.84,450.62 L72.03,448.44 L72.23,446.28 L72.43,444.13 L72.64,441.99 L72.86,439.86 L73.09,437.74 L73.33,435.63 L73.57,433.54 L73.82,431.45 L74.08,429.38 L74.35,427.32 L74.62,425.27 L74.90,423.23 L75.19,421.20 L75.48,419.18 L75.78,417.17 L76.10,415.17 L76.41,413.19 L76.74,411.21 L77.07,409.25 L77.41,407.29 L77.76,405.35 L78.11,403.41 L78.48,401.49 L78.85,399.58 L79.22,397.67 L79.61,395.78 L80.00,393.89 L80.40,392.02 L80.81,390.16 L81.22,388.30 L81.65,386.46 L82.08,384.63 L82.51,382.80 L82.96,380.99 L83.41,379.18 L83.87,377.39 L84.34,375.60 L84.81,373.82 L85.30,372.06 L85.79,370.30 L86.28,368.55 L86.79,366.81 L87.30,365.08 L87.82,363.36 L88.35,361.65 L88.88,359.94 L89.42,358.25 L89.97,356.56 L90.53,354.89 L91.09,353.22 L91.67,351.56 L92.25,349.91 L92.83,348.27 L93.43,346.64 L94.03,345.01 L94.64,343.40 L95.26,341.79 L95.88,340.19 L96.51,338.60 L97.15,337.02 L97.80,335.44 L98.45,333.88 L99.11,332.32 L99.78,330.77 L100.46,329.23 L101.14,327.70 L101.84,326.17 L102.53,324.65 L103.24,323.14 L103.96,321.64 L104.68,320.15 L105.41,318.66 L106.14,317.19 L106.89,315.72 L107.64,314.25 L108.40,312.80 L109.16,311.35 L109.94,309.91 L110.72,308.48 L111.51,307.06 L112.30,305.64 L113.11,304.23 L113.92,302.83 L114.74,301.43 L115.56,300.04 L116.40,298.66 L117.24,297.29 L118.09,295.92 L118.94,294.56 L119.81,293.21 L120.68,291.87 L121.56,290.53 L122.44,289.20 L123.34,287.87 L124.24,286.55 L125.15,285.24 L126.06,283.94 L126.99,282.64 L127.92,281.35 L128.86,280.07 L129.80,278.79 L130.75,277.52 L131.72,276.26 L132.68,275.00 L133.66,273.75 L134.64,272.51 L135.63,271.27 L136.63,270.04 L137.64,268.81 L138.65,267.59 L139.67,266.38 L140.70,265.18 L141.73,263.98 L142.78,262.78 L143.83,261.60 L144.89,260.42 L145.95,259.24 L147.03,258.07 L148.11,256.91 L149.19,255.75 L150.29,254.60 L151.39,253.46 L152.50,252.32 L153.62,251.18 L154.75,250.06 L155.88,248.94 L157.02,247.82 L158.17,246.71 L159.32,245.61 L160.48,244.51 L161.65,243.41 L162.83,242.33 L164.02,241.25 L165.21,240.17 L166.41,239.10 L167.62,238.04 L168.83,236.98 L170.06,235.92 L171.29,234.87 L172.52,233.83 L173.77,232.79 L175.02,231.76 L176.28,230.73 L177.55,229.71 L178.82,228.70 L180.10,227.69 L181.39,226.68 L182.69,225.68 L184.00,224.68 L185.31,223.69 L186.63,222.71 L187.96,221.73 L189.29,220.75 L190.63,219.78 L191.98,218.82 L193.34,217.86 L194.70,216.90 L196.08,215.95 L197.46,215.01 L198.84,214.07 L200.24,213.13 L201.64,212.20 L203.05,211.27 L204.47,210.35 L205.89,209.44 L207.32,208.53 L208.76,207.62 L210.21,206.72 L211.66,205.82 L213.12,204.93 L214.59,204.04 L216.07,203.15 L217.56,202.27 L219.05,201.40 L220.55,200.53 L222.05,199.66 L223.57,198.80 L225.09,197.94 L226.62,197.09 L228.15,196.24 L229.70,195.40 L231.25,194.56 L232.81,193.73 L234.38,192.90 L235.95,192.07 L237.53,191.25 L239.12,190.43 L240.72,189.62 L242.32,188.81 L243.93,188.00 L245.55,187.20 L247.18,186.40 L248.81,185.61 L250.45,184.82 L252.10,184.04 L253.76,183.25 L255.42,182.48 L257.09,181.71 L258.77,180.94 L260.46,180.17 L262.15,179.41 L263.85,178.65 L265.56,177.90 L267.28,177.15 L269.00,176.41 L270.73,175.67 L272.47,174.93 L274.21,174.19 L275.97,173.46 L277.73,172.74 L279.50,172.02 L281.27,171.30 L283.06,170.58 L284.85,169.87 L286.65,169.16 L288.45,168.46 L290.26,167.76 L292.09,167.06 L293.91,166.37 L295.75,165.68 L297.59,164.99 L299.44,164.31 L301.30,163.63 L303.17,162.96 L305.04,162.29 L306.92,161.62 L308.81,160.95 L310.70,160.29 L312.61,159.63 L314.52,158.98 L316.44,158.33 L318.36,157.68 L320.29,157.04 L322.23,156.39 L324.18,155.76 L326.14,155.12 L328.10,154.49 L330.07,153.86 L332.05,153.24 L334.03,152.62 L336.03,152.00 L338.03,151.38 L340.03,150.77 L342.05,150.16 L344.07,149.56 L346.10,148.95 L348.14,148.36 L350.18,147.76 L352.24,147.17 L354.30,146.58 L356.36,145.99 L358.44,145.41 L360.52,144.82 L362.61,144.25 L364.71,143.67 L366.81,143.10 L368.93,142.53 L371.05,141.97 L373.17,141.40 L375.31,140.84 L377.45,140.29 L379.60,139.73 L381.76,139.18 L383.92,138.63 L386.09,138.09 L388.27,137.54 L390.46,137.00 L392.66,136.47 L394.86,135.93 L397.07,135.40 L399.28,134.87 L401.51,134.35 L403.74,133.82 L405.98,133.30 L408.23,132.79 L410.48,132.27 L412.74,131.76 L415.01,131.25 L417.29,130.74 L419.57,130.24 L421.87,129.74 L424.17,129.24 L426.47,128.74 L428.79,128.25 L431.11,127.76 L433.44,127.27 L435.77,126.78 L438.12,126.30 L440.47,125.82 L442.83,125.34 L445.20,124.86 L447.57,124.39 L449.95,123.92 L452.34,123.45 L454.74,122.98 L457.14,122.52 L459.55,122.06 L461.97,121.60 L464.40,121.14 L466.83,120.69 L469.27,120.24 L471.72,119.79 L474.18,119.34 L476.64,118.90 L479.11,118.46 L481.59,118.02 L484.08,117.58 L486.57,117.14 L489.07,116.71 L491.58,116.28 L494.10,115.85 L496.62,115.43 L499.15,115.00 L501.69,114.58 L504.24,114.16 L506.79,113.75 L509.35,113.33 L511.92,112.92 L514.50,112.51 L517.08,112.10 L519.67,111.70 L522.27,111.29 L524.87,110.89 L527.49,110.49 L530.11,110.09 L532.74,109.70 L535.37,109.31 L538.02,108.91 L540.67,108.53 L543.32,108.14 L545.99,107.75 L548.66,107.37 L551.34,106.99 L554.03,106.61 L556.73,106.24 L559.43,105.86 L562.14,105.49 L564.86,105.12 L567.58,104.75 L570.32,104.38 L573.06,104.02 L575.81,103.66 L578.56,103.29 L581.32,102.94 L584.09,102.58 L586.87,102.22 L589.66,101.87 L592.45,101.52 L595.25,101.17 L598.06,100.82 L600.87,100.48 L603.70,100.14 L606.53,99.79 L609.36,99.45 L612.21,99.12 L615.06,98.78 L617.92,98.45 L620.79,98.11 L623.66,97.78 L626.55,97.45 L629.44,97.13 L632.33,96.80 L635.24,96.48 L638.15,96.16 L641.07,95.84 L644.00,95.52 L646.93,95.20 L649.88,94.89 L652.83,94.57 L655.78,94.26 L658.75,93.95 L661.72,93.64 L664.70,93.34" stroke="#a9c6ea" stroke-width="2.4"/>
<path d="M69.50,509.00 L69.50,504.70 L69.51,500.43 L69.53,496.21 L69.56,492.03 L69.59,487.88 L69.63,483.78 L69.68,479.71 L69.74,475.68 L69.80,471.69 L69.87,467.74 L69.95,463.83 L70.04,459.95 L70.13,456.11 L70.23,452.30 L70.34,448.53 L70.46,444.80 L70.58,441.10 L70.71,437.44 L70.85,433.81 L71.00,430.21 L71.15,426.65 L71.31,423.12 L71.48,419.63 L71.65,416.17 L71.84,412.74 L72.03,409.34 L72.23,405.98 L72.43,402.65 L72.64,399.35 L72.86,396.08 L73.09,392.84 L73.33,389.63 L73.57,386.46 L73.82,383.31 L74.08,380.19 L74.35,377.10 L74.62,374.05 L74.90,371.02 L75.19,368.01 L75.48,365.04 L75.78,362.10 L76.10,359.18 L76.41,356.29 L76.74,353.43 L77.07,350.59 L77.41,347.78 L77.76,345.00 L78.11,342.25 L78.48,339.52 L78.85,336.81 L79.22,334.14 L79.61,331.48 L80.00,328.85 L80.40,326.25 L80.81,323.67 L81.22,321.12 L81.65,318.59 L82.08,316.08 L82.51,313.60 L82.96,311.14 L83.41,308.70 L83.87,306.28 L84.34,303.89 L84.81,301.52 L85.30,299.18 L85.79,296.85 L86.28,294.55 L86.79,292.27 L87.30,290.01 L87.82,287.77 L88.35,285.55 L88.88,283.35 L89.42,281.17 L89.97,279.02 L90.53,276.88 L91.09,274.76 L91.67,272.66 L92.25,270.58 L92.83,268.53 L93.43,266.49 L94.03,264.46 L94.64,262.46 L95.26,260.48 L95.88,258.51 L96.51,256.56 L97.15,254.63 L97.80,252.72 L98.45,250.83 L99.11,248.95 L99.78,247.09 L100.46,245.25 L101.14,243.42 L101.84,241.61 L102.53,239.82 L103.24,238.04 L103.96,236.28 L104.68,234.53 L105.41,232.80 L106.14,231.09 L106.89,229.39 L107.64,227.71 L108.40,226.04 L109.16,224.39 L109.94,222.75 L110.72,221.13 L111.51,219.52 L112.30,217.93 L113.11,216.35 L113.92,214.78 L114.74,213.23 L115.56,211.69 L116.40,210.17 L117.24,208.66 L118.09,207.16 L118.94,205.67 L119.81,204.20 L120.68,202.75 L121.56,201.30 L122.44,199.87 L123.34,198.45 L124.24,197.04 L125.15,195.64 L126.06,194.26 L126.99,192.89 L127.92,191.53 L128.86,190.18 L129.80,188.85 L130.75,187.52 L131.72,186.21 L132.68,184.91 L133.66,183.62 L134.64,182.34 L135.63,181.07 L136.63,179.81 L137.64,178.57 L138.65,177.33 L139.67,176.11 L140.70,174.89 L141.73,173.69 L142.78,172.49 L143.83,171.31 L144.89,170.13 L145.95,168.97 L147.03,167.82 L148.11,166.67 L149.19,165.54 L150.29,164.41 L151.39,163.29 L152.50,162.19 L153.62,161.09 L154.75,160.00 L155.88,158.92 L157.02,157.85 L158.17,156.79 L159.32,155.74 L160.48,154.69 L161.65,153.66 L162.83,152.63 L164.02,151.61 L165.21,150.60 L166.41,149.60 L167.62,148.60 L168.83,147.62 L170.06,146.64 L171.29,145.67 L172.52,144.71 L173.77,143.76 L175.02,142.81 L176.28,141.87 L177.55,140.94 L178.82,140.02 L180.10,139.10 L181.39,138.19 L182.69,137.29 L184.00,136.40 L185.31,135.51 L186.63,134.63 L187.96,133.76 L189.29,132.90 L190.63,132.04 L191.98,131.19 L193.34,130.34 L194.70,129.50 L196.08,128.67 L197.46,127.85 L198.84,127.03 L200.24,126.22 L201.64,125.41 L203.05,124.62 L204.47,123.82 L205.89,123.04 L207.32,122.26 L208.76,121.49 L210.21,120.72 L211.66,119.96 L213.12,119.20 L214.59,118.45 L216.07,117.71 L217.56,116.97 L219.05,116.24 L220.55,115.52 L222.05,114.80 L223.57,114.09 L225.09,113.38 L226.62,112.68 L228.15,111.98 L229.70,111.29 L231.25,110.60 L232.81,109.92 L234.38,109.25 L235.95,108.58 L237.53,107.91 L239.12,107.26 L240.72,106.60 L242.32,105.96 L243.93,105.31 L245.55,104.68 L247.18,104.04 L248.81,103.42 L250.45,102.79 L252.10,102.18 L253.76,101.57 L255.42,100.96 L257.09,100.36 L258.77,99.76 L260.46,99.17 L262.15,98.58 L263.85,98.00 L265.56,97.42 L267.28,96.85 L269.00,96.28 L270.73,95.72 L272.47,95.16 L274.21,94.60 L275.97,94.05 L277.73,93.51 L279.50,92.97 L281.27,92.43 L283.06,91.90 L284.85,91.38 L286.65,90.86 L288.45,90.34 L290.26,89.82 L292.09,89.32 L293.91,88.81 L295.75,88.31 L297.59,87.82 L299.44,87.33 L301.30,86.84 L303.17,86.36 L305.04,85.88 L306.92,85.40 L308.81,84.93 L310.70,84.47 L312.61,84.01 L314.52,83.55 L316.44,83.10 L318.36,82.65 L320.29,82.20 L322.23,81.76 L324.18,81.32 L326.14,80.89 L328.10,80.46 L330.07,80.04 L332.05,79.62 L334.03,79.20 L336.03,78.79 L338.03,78.38 L340.03,77.97 L342.05,77.57 L344.07,77.17 L346.10,76.78 L348.14,76.39 L350.18,76.01 L352.24,75.62 L354.30,75.25 L356.36,74.87 L358.44,74.50 L360.52,74.13 L362.61,73.77 L364.71,73.41 L366.81,73.05 L368.93,72.70 L371.05,72.35 L373.17,72.01 L375.31,71.66 L377.45,71.33 L379.60,70.99 L381.76,70.66 L383.92,70.33 L386.09,70.01 L388.27,69.69 L390.46,69.37 L392.66,69.06 L394.86,68.75 L397.07,68.44 L399.28,68.14 L401.51,67.84 L403.74,67.54 L405.98,67.24 L408.23,66.95 L410.48,66.67 L412.74,66.38 L415.01,66.10 L417.29,65.82 L419.57,65.55 L421.87,65.28 L424.17,65.01 L426.47,64.75 L428.79,64.48 L431.11,64.23 L433.44,63.97 L435.77,63.72 L438.12,63.47 L440.47,63.22 L442.83,62.98 L445.20,62.74 L447.57,62.50 L449.95,62.26 L452.34,62.03 L454.74,61.80 L457.14,61.57 L459.55,61.35 L461.97,61.13 L464.40,60.91 L466.83,60.69 L469.27,60.48 L471.72,60.27 L474.18,60.06 L476.64,59.85 L479.11,59.65 L481.59,59.45 L484.08,59.25 L486.57,59.05 L489.07,58.86 L491.58,58.67 L494.10,58.48 L496.62,58.29 L499.15,58.11 L501.69,57.93 L504.24,57.75 L506.79,57.57 L509.35,57.39 L511.92,57.22 L514.50,57.05 L517.08,56.88 L519.67,56.71 L522.27,56.54 L524.87,56.38 L527.49,56.22 L530.11,56.06 L532.74,55.90 L535.37,55.74 L538.02,55.58 L540.67,55.43 L543.32,55.28 L545.99,55.13 L548.66,54.98 L551.34,54.83 L554.03,54.68 L556.73,54.53 L559.43,54.39 L562.14,54.25 L564.86,54.10 L567.58,53.96 L570.32,53.82 L573.06,53.68 L575.81,53.55 L578.56,53.41 L581.32,53.27 L584.09,53.14 L586.87,53.00 L589.66,52.87 L592.45,52.73 L595.25,52.60 L598.06,52.47 L600.87,52.33 L603.70,52.20 L606.53,52.07 L609.36,51.94 L612.21,51.81 L615.06,51.68 L617.92,51.54 L620.79,51.41 L623.66,51.28 L626.55,51.15 L629.44,51.01 L632.33,50.88 L635.24,50.75 L638.15,50.61 L641.07,50.48 L644.00,50.35 L646.93,50.21 L649.88,50.07 L652.83,49.93 L655.78,49.80 L658.75,49.66 L661.72,49.51 L664.70,49.40" stroke="#e3202a" stroke-width="2.6"/>
</g>
<line x1="69.5" y1="509.0" x2="69.5" y2="504.5" stroke="#767676" stroke-width="1.4"/>
<line x1="69.5" y1="49.4" x2="69.5" y2="53.9" stroke="#767676" stroke-width="1.4"/>
<text x="46.61" y="529.30" font-size="20.71" stroke="#383838" stroke-width="0.35" stroke-linejoin="round" fill="#383838" textLength="45.69" lengthAdjust="spacingAndGlyphs">0.00</text>
<line x1="168.7" y1="509.0" x2="168.7" y2="504.5" stroke="#767676" stroke-width="1.4"/>
<line x1="168.7" y1="49.4" x2="168.7" y2="53.9" stroke="#767676" stroke-width="1.4"/>
<text x="145.81" y="529.30" font-size="20.71" stroke="#383838" stroke-width="0.35" stroke-linejoin="round" fill="#383838" textLength="45.94" lengthAdjust="spacingAndGlyphs">0.05</text>
<line x1="267.9" y1="509.0" x2="267.9" y2="504.5" stroke="#767676" stroke-width="1.4"/>
<line x1="267.9" y1="49.4" x2="267.9" y2="53.9" stroke="#767676" stroke-width="1.4"/>
<text x="245.01" y="529.30" font-size="20.71" stroke="#383838" stroke-width="0.35" stroke-linejoin="round" fill="#383838" textLength="45.69" lengthAdjust="spacingAndGlyphs">0.10</text>
<line x1="367.1" y1="509.0" x2="367.1" y2="504.5" stroke="#767676" stroke-width="1.4"/>
<line x1="367.1" y1="49.4" x2="367.1" y2="53.9" stroke="#767676" stroke-width="1.4"/>
<text x="344.21" y="529.30" font-size="20.71" stroke="#383838" stroke-width="0.35" stroke-linejoin="round" fill="#383838" textLength="45.94" lengthAdjust="spacingAndGlyphs">0.15</text>
<line x1="466.3" y1="509.0" x2="466.3" y2="504.5" stroke="#767676" stroke-width="1.4"/>
<line x1="466.3" y1="49.4" x2="466.3" y2="53.9" stroke="#767676" stroke-width="1.4"/>
<text x="443.41" y="529.30" font-size="20.71" stroke="#383838" stroke-width="0.35" stroke-linejoin="round" fill="#383838" textLength="45.69" lengthAdjust="spacingAndGlyphs">0.20</text>
<line x1="565.5" y1="509.0" x2="565.5" y2="504.5" stroke="#767676" stroke-width="1.4"/>
<line x1="565.5" y1="49.4" x2="565.5" y2="53.9" stroke="#767676" stroke-width="1.4"/>
<text x="542.61" y="529.30" font-size="20.71" stroke="#383838" stroke-width="0.35" stroke-linejoin="round" fill="#383838" textLength="45.94" lengthAdjust="spacingAndGlyphs">0.25</text>
<line x1="664.7" y1="509.0" x2="664.7" y2="504.5" stroke="#767676" stroke-width="1.4"/>
<line x1="664.7" y1="49.4" x2="664.7" y2="53.9" stroke="#767676" stroke-width="1.4"/>
<text x="641.81" y="529.30" font-size="20.71" stroke="#383838" stroke-width="0.35" stroke-linejoin="round" fill="#383838" textLength="45.69" lengthAdjust="spacingAndGlyphs">0.30</text>
<line x1="69.5" y1="509.0" x2="74.0" y2="509.0" stroke="#767676" stroke-width="1.4"/>
<line x1="664.7" y1="509.0" x2="660.2" y2="509.0" stroke="#767676" stroke-width="1.4"/>
<text x="30.68" y="514.00" font-size="21.14" stroke="#383838" stroke-width="0.35" stroke-linejoin="round" fill="#383838" textLength="31.94" lengthAdjust="spacingAndGlyphs">0.0</text>
<line x1="69.5" y1="417.1" x2="74.0" y2="417.1" stroke="#767676" stroke-width="1.4"/>
<line x1="664.7" y1="417.1" x2="660.2" y2="417.1" stroke="#767676" stroke-width="1.4"/>
<text x="30.67" y="422.08" font-size="21.14" stroke="#383838" stroke-width="0.35" stroke-linejoin="round" fill="#383838" textLength="32.19" lengthAdjust="spacingAndGlyphs">0.2</text>
<line x1="69.5" y1="325.2" x2="74.0" y2="325.2" stroke="#767676" stroke-width="1.4"/>
<line x1="664.7" y1="325.2" x2="660.2" y2="325.2" stroke="#767676" stroke-width="1.4"/>
<text x="30.69" y="330.16" font-size="21.14" stroke="#383838" stroke-width="0.35" stroke-linejoin="round" fill="#383838" textLength="31.70" lengthAdjust="spacingAndGlyphs">0.4</text>
<line x1="69.5" y1="233.2" x2="74.0" y2="233.2" stroke="#767676" stroke-width="1.4"/>
<line x1="664.7" y1="233.2" x2="660.2" y2="233.2" stroke="#767676" stroke-width="1.4"/>
<text x="30.68" y="238.24" font-size="21.14" stroke="#383838" stroke-width="0.35" stroke-linejoin="round" fill="#383838" textLength="31.94" lengthAdjust="spacingAndGlyphs">0.6</text>
<line x1="69.5" y1="141.3" x2="74.0" y2="141.3" stroke="#767676" stroke-width="1.4"/>
<line x1="664.7" y1="141.3" x2="660.2" y2="141.3" stroke="#767676" stroke-width="1.4"/>
<text x="30.68" y="146.32" font-size="21.14" stroke="#383838" stroke-width="0.35" stroke-linejoin="round" fill="#383838" textLength="31.94" lengthAdjust="spacingAndGlyphs">0.8</text>
<line x1="69.5" y1="49.4" x2="74.0" y2="49.4" stroke="#767676" stroke-width="1.4"/>
<line x1="664.7" y1="49.4" x2="660.2" y2="49.4" stroke="#767676" stroke-width="1.4"/>
<text x="30.87" y="54.40" font-size="21.14" stroke="#383838" stroke-width="0.35" stroke-linejoin="round" fill="#383838" textLength="31.74" lengthAdjust="spacingAndGlyphs">1.0</text>
<text x="302.81" y="555.10" font-size="19.86" stroke="#383838" stroke-width="0.35" stroke-linejoin="round" fill="#383838" textLength="126.04" lengthAdjust="spacingAndGlyphs">Energy (eV)</text>
<text transform="translate(18.20,292.80) rotate(-90)" x="0.09" y="-0.50" font-size="21.45" stroke="#383838" stroke-width="0.35" stroke-linejoin="round" fill="#383838" textLength="26.09" lengthAdjust="spacingAndGlyphs">TP</text>
<line x1="187.9" y1="509.0" x2="187.9" y2="62" stroke="#787878" stroke-width="2.2"/>
<polygon points="187.9,50.6 180.8,65.1 194.7,65.1" fill="#444"/>
<text x="108.08" y="75.80" font-size="22.78" font-weight="bold" stroke="#444" stroke-width="0.5" stroke-linejoin="round" fill="#444" textLength="25.62" lengthAdjust="spacingAndGlyphs">m</text>
<text x="133.78" y="80.90" font-size="14.07" font-weight="bold" stroke="#444" stroke-width="0.5" stroke-linejoin="round" fill="#444" textLength="16.73" lengthAdjust="spacingAndGlyphs">m</text>
<text x="209.50" y="73.97" font-size="22.68" font-weight="bold" stroke="#e8141c" stroke-width="0.5" stroke-linejoin="round" fill="#e8141c" textLength="28.47" lengthAdjust="spacingAndGlyphs">Sc</text>
<polyline points="209.7,78.5 211.3,80.1 212.9,78.5 214.5,80.1 216.1,78.5 217.7,80.1 219.3,78.5 220.9,80.1 222.5,78.5 224.1,80.1 225.7,78.5 227.3,80.1 228.9,78.5 230.5,80.1 232.1,78.5 233.7,80.1 235.3,78.5 236.9,80.1" fill="none" stroke="#f4a0a0" stroke-width="1.0"/>
<polygon points="224.9,93.6 240.1,97.8 231.8,106.8" fill="#e8141c"/>
<text x="382.61" y="115.37" font-size="23.00" font-weight="bold" stroke="#3d9a47" stroke-width="0.5" stroke-linejoin="round" fill="#3d9a47" textLength="31.48" lengthAdjust="spacingAndGlyphs">Ta</text>
<line x1="393.5" y1="132.7" x2="388.5" y2="145.4" stroke="#3d9a47" stroke-width="1.2"/>
<polygon points="396,122.5 386.7,130.7 400.2,134.6" fill="#3d9a47"/>
<text x="317.89" y="214.50" font-size="24.64" font-weight="bold" stroke="#6ab0dc" stroke-width="0.5" stroke-linejoin="round" fill="#6ab0dc" textLength="30.21" lengthAdjust="spacingAndGlyphs">Zr</text>
<line x1="346.8" y1="147" x2="337.5" y2="177" stroke="#6ab0dc" stroke-width="1.2"/>
<polygon points="330.4,175.2 344.5,178.7 334.7,188" fill="#6ab0dc"/>
<text x="515.01" y="170.80" font-size="23.70" font-weight="bold" stroke="#2e2a7a" stroke-width="0.5" stroke-linejoin="round" fill="#2e2a7a" textLength="67.81" lengthAdjust="spacingAndGlyphs"><tspan fill="#2e2a7a" stroke="#2e2a7a">Ti.</tspan><tspan fill="#8a2a9a" stroke="#8a2a9a">Zn</tspan></text>
<polyline points="514.8,174.6 516.4,176.2 518.0,174.6 519.6,176.2 521.2,174.6 522.8,176.2 524.4,174.6 526.0,176.2 527.6,174.6 529.2,176.2 530.8,174.6 532.4,176.2 534.0,174.6 535.6,176.2 537.2,174.6 538.8,176.2 540.4,174.6 542.0,176.2 543.6,174.6 545.2,176.2 546.8,174.6 548.4,176.2 550.0,174.6 551.6,176.2 553.2,174.6 554.8,176.2 556.4,174.6 558.0,176.2 559.6,174.6 561.2,176.2 562.8,174.6 564.4,176.2 566.0,174.6 567.6,176.2 569.2,174.6 570.8,176.2 572.4,174.6 574.0,176.2 575.6,174.6 577.2,176.2 578.8,174.6 580.4,176.2" fill="none" stroke="#f4a090" stroke-width="1.0"/>
<text x="270.06" y="311.90" font-size="23.56" font-weight="bold" stroke="#3a9ccc" stroke-width="0.5" stroke-linejoin="round" fill="#3a9ccc" textLength="27.89" lengthAdjust="spacingAndGlyphs">Al</text>
<line x1="255" y1="331" x2="239.2" y2="349.4" stroke="#3a9ccc" stroke-width="1.2"/>
<polygon points="264.7,320.7 250.1,326.5 260,335.3" fill="#3a9ccc"/>
<text x="263.80" y="432.80" font-size="24.20" font-weight="bold" stroke="#9a9a9a" stroke-width="0.5" stroke-linejoin="round" fill="#9a9a9a" textLength="30.23" lengthAdjust="spacingAndGlyphs">W</text>
<line x1="288.3" y1="377.8" x2="287.4" y2="393" stroke="#9a9a9a" stroke-width="1.2"/>
<polygon points="280,392.5 294.4,392.5 287,404.2" fill="#9a9a9a"/>
<rect x="454.2" y="319.2" width="203" height="181.4" rx="2" fill="#fff" stroke="#505050" stroke-width="1.6"/>
<line x1="464.3" y1="333.9" x2="489.8" y2="333.9" stroke="#a6a6a6" stroke-width="3"/>
<text x="511.02" y="339.10" font-size="14.90" stroke="#383838" stroke-width="0.35" stroke-linejoin="round" fill="#383838" textLength="130.31" lengthAdjust="spacingAndGlyphs">W mm=0.73 me</text>
<line x1="464.3" y1="359.1" x2="489.8" y2="359.1" stroke="#4a9fcb" stroke-width="3"/>
<text x="505.90" y="364.35" font-size="14.90" stroke="#383838" stroke-width="0.35" stroke-linejoin="round" fill="#383838" textLength="129.64" lengthAdjust="spacingAndGlyphs">Al mm=1.45 me</text>
<line x1="464.3" y1="384.4" x2="489.8" y2="384.4" stroke="#9a3aa0" stroke-width="3"/>
<text x="505.53" y="389.60" font-size="14.90" stroke="#383838" stroke-width="0.35" stroke-linejoin="round" fill="#383838" textLength="129.15" lengthAdjust="spacingAndGlyphs">Ti mm=4.20 me</text>
<line x1="464.3" y1="409.6" x2="489.8" y2="409.6" stroke="#45378f" stroke-width="3"/>
<text x="505.34" y="414.85" font-size="14.90" stroke="#383838" stroke-width="0.35" stroke-linejoin="round" fill="#383838" textLength="136.05" lengthAdjust="spacingAndGlyphs">Zn mm=4.26 me</text>
<line x1="464.3" y1="434.9" x2="489.8" y2="434.9" stroke="#3a9a3e" stroke-width="3"/>
<text x="505.53" y="440.10" font-size="14.90" stroke="#383838" stroke-width="0.35" stroke-linejoin="round" fill="#383838" textLength="134.86" lengthAdjust="spacingAndGlyphs">Ta mm=9.84 me</text>
<line x1="464.3" y1="460.1" x2="489.8" y2="460.1" stroke="#a9c6ea" stroke-width="3"/>
<text x="505.34" y="465.35" font-size="14.90" stroke="#383838" stroke-width="0.35" stroke-linejoin="round" fill="#383838" textLength="142.63" lengthAdjust="spacingAndGlyphs">Zr mm=10.56 me</text>
<line x1="464.3" y1="485.4" x2="489.8" y2="485.4" stroke="#e3202a" stroke-width="3"/>
<text x="504.98" y="490.60" font-size="14.90" stroke="#383838" stroke-width="0.35" stroke-linejoin="round" fill="#383838" textLength="144.94" lengthAdjust="spacingAndGlyphs">Sc mm=29.43 me</text>
<g stroke="#dcdcdc" stroke-width="2.2" fill="none">
<line x1="861.4" y1="51.8" x2="861.4" y2="500.5"/>
<line x1="939.6" y1="51.8" x2="939.6" y2="500.5"/>
<line x1="1017.8" y1="51.8" x2="1017.8" y2="500.5"/>
<line x1="1096.0" y1="51.8" x2="1096.0" y2="500.5"/>
<line x1="1174.2" y1="51.8" x2="1174.2" y2="500.5"/>
<line x1="1252.4" y1="51.8" x2="1252.4" y2="500.5"/>
<line x1="783.2" y1="455.6" x2="1252.4" y2="455.6"/>
<line x1="783.2" y1="410.8" x2="1252.4" y2="410.8"/>
<line x1="783.2" y1="365.9" x2="1252.4" y2="365.9"/>
<line x1="783.2" y1="321.0" x2="1252.4" y2="321.0"/>
<line x1="783.2" y1="276.1" x2="1252.4" y2="276.1"/>
<line x1="783.2" y1="231.3" x2="1252.4" y2="231.3"/>
<line x1="783.2" y1="186.4" x2="1252.4" y2="186.4"/>
<line x1="783.2" y1="141.5" x2="1252.4" y2="141.5"/>
<line x1="783.2" y1="96.7" x2="1252.4" y2="96.7"/>
<line x1="783.2" y1="51.8" x2="1252.4" y2="51.8"/>
</g>
<text x="792.94" y="25.74" font-size="25.53" stroke="#404040" stroke-width="0.3" stroke-linejoin="round" fill="#404040" textLength="29.78" lengthAdjust="spacingAndGlyphs">(b)</text>
<g stroke="#c4c4c4" stroke-width="1.1" fill="none">
<polyline points="809.5,88 790.1,225.3"/>
<polyline points="803,139.7 806.5,181"/>
<polyline points="849.4,113.1 866,100 873,97"/>
<polyline points="842.6,174.3 850.4,152.6 861.7,151"/>
<polyline points="847,194.2 857.4,202.9 868.6,202.9"/>
<polyline points="796,249.6 925,134.3 936,134.3"/>
<polyline points="879.3,243.5 921,192 930.4,192"/>
<polyline points="849.4,230.8 900,231 936.5,236.4"/>
<polyline points="820.3,238.1 974.7,276.4 988.6,276.4"/>
<polyline points="809.1,281.1 910.6,284.4"/>
<polyline points="800.8,276 800.8,292.4 807.4,292.4"/>
<polyline points="839.5,299.3 843.8,301.5 856,301.9"/>
<polyline points="818.5,321.3 852.6,321.8"/>
<polyline points="938.1,330.6 967.8,320.3 981.7,320.3"/>
<polyline points="907.5,325.4 930.8,383.1"/>
<polyline points="842.5,371.1 943.3,376.9"/>
<polyline points="876.7,356 878.5,455.4 891,455.4"/>
<polyline points="827.2,349.9 833.8,471.1 845.1,471.1"/>
<polyline points="800.8,353.4 808.6,448.6"/>
<polyline points="797,367.6 791.3,404.3"/>
<polyline points="848.3,406.5 860.8,410.6 880.6,414.8"/>
<polyline points="949.5,426 971.25,454.6 982.5,454.6"/>
<polyline points="1163.3,471.5 1176.25,471.7"/>
</g>
<line x1="852.5" y1="51.8" x2="852.5" y2="399.6" stroke="#858585" stroke-width="3" stroke-dasharray="13 13.4" stroke-dashoffset="8.4"/>
<line x1="853.2" y1="407.9" x2="1245" y2="410.6" stroke="#9a9a9a" stroke-width="3" stroke-dasharray="14.5 12.2"/>
<line x1="783.2" y1="50.8" x2="783.2" y2="507.8" stroke="#454545" stroke-width="2.4"/>
<line x1="777.5" y1="500.5" x2="1253.4" y2="500.5" stroke="#454545" stroke-width="2.4"/>
<line x1="1252.4" y1="500.5" x2="1252.4" y2="506.9" stroke="#454545" stroke-width="2.4"/>
<line x1="777.0" y1="500.5" x2="783.2" y2="500.5" stroke="#454545" stroke-width="1.8"/>
<line x1="777.0" y1="491.5" x2="783.2" y2="491.5" stroke="#454545" stroke-width="1.8"/>
<line x1="777.0" y1="482.6" x2="783.2" y2="482.6" stroke="#454545" stroke-width="1.8"/>
<line x1="777.0" y1="473.6" x2="783.2" y2="473.6" stroke="#454545" stroke-width="1.8"/>
<line x1="777.0" y1="464.6" x2="783.2" y2="464.6" stroke="#454545" stroke-width="1.8"/>
<line x1="777.0" y1="455.6" x2="783.2" y2="455.6" stroke="#454545" stroke-width="1.8"/>
<line x1="777.0" y1="446.7" x2="783.2" y2="446.7" stroke="#454545" stroke-width="1.8"/>
<line x1="777.0" y1="437.7" x2="783.2" y2="437.7" stroke="#454545" stroke-width="1.8"/>
<line x1="777.0" y1="428.7" x2="783.2" y2="428.7" stroke="#454545" stroke-width="1.8"/>
<line x1="777.0" y1="419.7" x2="783.2" y2="419.7" stroke="#454545" stroke-width="1.8"/>
<line x1="777.0" y1="410.8" x2="783.2" y2="410.8" stroke="#454545" stroke-width="1.8"/>
<line x1="777.0" y1="401.8" x2="783.2" y2="401.8" stroke="#454545" stroke-width="1.8"/>
<line x1="777.0" y1="392.8" x2="783.2" y2="392.8" stroke="#454545" stroke-width="1.8"/>
<line x1="777.0" y1="383.8" x2="783.2" y2="383.8" stroke="#454545" stroke-width="1.8"/>
<line x1="777.0" y1="374.9" x2="783.2" y2="374.9" stroke="#454545" stroke-width="1.8"/>
<line x1="777.0" y1="365.9" x2="783.2" y2="365.9" stroke="#454545" stroke-width="1.8"/>
<line x1="777.0" y1="356.9" x2="783.2" y2="356.9" stroke="#454545" stroke-width="1.8"/>
<line x1="777.0" y1="347.9" x2="783.2" y2="347.9" stroke="#454545" stroke-width="1.8"/>
<line x1="777.0" y1="339.0" x2="783.2" y2="339.0" stroke="#454545" stroke-width="1.8"/>
<line x1="777.0" y1="330.0" x2="783.2" y2="330.0" stroke="#454545" stroke-width="1.8"/>
<line x1="777.0" y1="321.0" x2="783.2" y2="321.0" stroke="#454545" stroke-width="1.8"/>
<line x1="777.0" y1="312.0" x2="783.2" y2="312.0" stroke="#454545" stroke-width="1.8"/>
<line x1="777.0" y1="303.1" x2="783.2" y2="303.1" stroke="#454545" stroke-width="1.8"/>
<line x1="777.0" y1="294.1" x2="783.2" y2="294.1" stroke="#454545" stroke-width="1.8"/>
<line x1="777.0" y1="285.1" x2="783.2" y2="285.1" stroke="#454545" stroke-width="1.8"/>
<line x1="777.0" y1="276.1" x2="783.2" y2="276.1" stroke="#454545" stroke-width="1.8"/>
<line x1="777.0" y1="267.2" x2="783.2" y2="267.2" stroke="#454545" stroke-width="1.8"/>
<line x1="777.0" y1="258.2" x2="783.2" y2="258.2" stroke="#454545" stroke-width="1.8"/>
<line x1="777.0" y1="249.2" x2="783.2" y2="249.2" stroke="#454545" stroke-width="1.8"/>
<line x1="777.0" y1="240.3" x2="783.2" y2="240.3" stroke="#454545" stroke-width="1.8"/>
<line x1="777.0" y1="231.3" x2="783.2" y2="231.3" stroke="#454545" stroke-width="1.8"/>
<line x1="777.0" y1="222.3" x2="783.2" y2="222.3" stroke="#454545" stroke-width="1.8"/>
<line x1="777.0" y1="213.3" x2="783.2" y2="213.3" stroke="#454545" stroke-width="1.8"/>
<line x1="777.0" y1="204.4" x2="783.2" y2="204.4" stroke="#454545" stroke-width="1.8"/>
<line x1="777.0" y1="195.4" x2="783.2" y2="195.4" stroke="#454545" stroke-width="1.8"/>
<line x1="777.0" y1="186.4" x2="783.2" y2="186.4" stroke="#454545" stroke-width="1.8"/>
<line x1="777.0" y1="177.4" x2="783.2" y2="177.4" stroke="#454545" stroke-width="1.8"/>
<line x1="777.0" y1="168.5" x2="783.2" y2="168.5" stroke="#454545" stroke-width="1.8"/>
<line x1="777.0" y1="159.5" x2="783.2" y2="159.5" stroke="#454545" stroke-width="1.8"/>
<line x1="777.0" y1="150.5" x2="783.2" y2="150.5" stroke="#454545" stroke-width="1.8"/>
<line x1="777.0" y1="141.5" x2="783.2" y2="141.5" stroke="#454545" stroke-width="1.8"/>
<line x1="777.0" y1="132.6" x2="783.2" y2="132.6" stroke="#454545" stroke-width="1.8"/>
<line x1="777.0" y1="123.6" x2="783.2" y2="123.6" stroke="#454545" stroke-width="1.8"/>
<line x1="777.0" y1="114.6" x2="783.2" y2="114.6" stroke="#454545" stroke-width="1.8"/>
<line x1="777.0" y1="105.6" x2="783.2" y2="105.6" stroke="#454545" stroke-width="1.8"/>
<line x1="777.0" y1="96.7" x2="783.2" y2="96.7" stroke="#454545" stroke-width="1.8"/>
<line x1="777.0" y1="87.7" x2="783.2" y2="87.7" stroke="#454545" stroke-width="1.8"/>
<line x1="777.0" y1="78.7" x2="783.2" y2="78.7" stroke="#454545" stroke-width="1.8"/>
<line x1="777.0" y1="69.7" x2="783.2" y2="69.7" stroke="#454545" stroke-width="1.8"/>
<line x1="777.0" y1="60.8" x2="783.2" y2="60.8" stroke="#454545" stroke-width="1.8"/>
<line x1="777.0" y1="51.8" x2="783.2" y2="51.8" stroke="#454545" stroke-width="1.8"/>
<line x1="783.2" y1="500.5" x2="783.2" y2="507.5" stroke="#454545" stroke-width="1.8"/>
<line x1="798.8" y1="500.5" x2="798.8" y2="505.0" stroke="#454545" stroke-width="1.8"/>
<line x1="814.5" y1="500.5" x2="814.5" y2="505.0" stroke="#454545" stroke-width="1.8"/>
<line x1="830.1" y1="500.5" x2="830.1" y2="505.0" stroke="#454545" stroke-width="1.8"/>
<line x1="845.8" y1="500.5" x2="845.8" y2="505.0" stroke="#454545" stroke-width="1.8"/>
<line x1="861.4" y1="500.5" x2="861.4" y2="507.5" stroke="#454545" stroke-width="1.8"/>
<line x1="877.0" y1="500.5" x2="877.0" y2="505.0" stroke="#454545" stroke-width="1.8"/>
<line x1="892.7" y1="500.5" x2="892.7" y2="505.0" stroke="#454545" stroke-width="1.8"/>
<line x1="908.3" y1="500.5" x2="908.3" y2="505.0" stroke="#454545" stroke-width="1.8"/>
<line x1="924.0" y1="500.5" x2="924.0" y2="505.0" stroke="#454545" stroke-width="1.8"/>
<line x1="939.6" y1="500.5" x2="939.6" y2="507.5" stroke="#454545" stroke-width="1.8"/>
<line x1="955.2" y1="500.5" x2="955.2" y2="505.0" stroke="#454545" stroke-width="1.8"/>
<line x1="970.9" y1="500.5" x2="970.9" y2="505.0" stroke="#454545" stroke-width="1.8"/>
<line x1="986.5" y1="500.5" x2="986.5" y2="505.0" stroke="#454545" stroke-width="1.8"/>
<line x1="1002.2" y1="500.5" x2="1002.2" y2="505.0" stroke="#454545" stroke-width="1.8"/>
<line x1="1017.8" y1="500.5" x2="1017.8" y2="507.5" stroke="#454545" stroke-width="1.8"/>
<line x1="1033.4" y1="500.5" x2="1033.4" y2="505.0" stroke="#454545" stroke-width="1.8"/>
<line x1="1049.1" y1="500.5" x2="1049.1" y2="505.0" stroke="#454545" stroke-width="1.8"/>
<line x1="1064.7" y1="500.5" x2="1064.7" y2="505.0" stroke="#454545" stroke-width="1.8"/>
<line x1="1080.4" y1="500.5" x2="1080.4" y2="505.0" stroke="#454545" stroke-width="1.8"/>
<line x1="1096.0" y1="500.5" x2="1096.0" y2="507.5" stroke="#454545" stroke-width="1.8"/>
<line x1="1111.6" y1="500.5" x2="1111.6" y2="505.0" stroke="#454545" stroke-width="1.8"/>
<line x1="1127.3" y1="500.5" x2="1127.3" y2="505.0" stroke="#454545" stroke-width="1.8"/>
<line x1="1142.9" y1="500.5" x2="1142.9" y2="505.0" stroke="#454545" stroke-width="1.8"/>
<line x1="1158.6" y1="500.5" x2="1158.6" y2="505.0" stroke="#454545" stroke-width="1.8"/>
<line x1="1174.2" y1="500.5" x2="1174.2" y2="507.5" stroke="#454545" stroke-width="1.8"/>
<line x1="1189.8" y1="500.5" x2="1189.8" y2="505.0" stroke="#454545" stroke-width="1.8"/>
<line x1="1205.5" y1="500.5" x2="1205.5" y2="505.0" stroke="#454545" stroke-width="1.8"/>
<line x1="1221.1" y1="500.5" x2="1221.1" y2="505.0" stroke="#454545" stroke-width="1.8"/>
<line x1="1236.8" y1="500.5" x2="1236.8" y2="505.0" stroke="#454545" stroke-width="1.8"/>
<line x1="1252.4" y1="500.5" x2="1252.4" y2="507.5" stroke="#454545" stroke-width="1.8"/>
<text x="751.88" y="506.90" font-size="20.40" stroke="#3c3c3c" stroke-width="0.35" stroke-linejoin="round" fill="#3c3c3c" textLength="11.67" lengthAdjust="spacingAndGlyphs">4</text>
<text x="751.39" y="462.03" font-size="20.40" stroke="#3c3c3c" stroke-width="0.35" stroke-linejoin="round" fill="#3c3c3c" textLength="12.66" lengthAdjust="spacingAndGlyphs">5</text>
<text x="751.14" y="417.16" font-size="20.40" stroke="#3c3c3c" stroke-width="0.35" stroke-linejoin="round" fill="#3c3c3c" textLength="12.94" lengthAdjust="spacingAndGlyphs">6</text>
<text x="751.14" y="372.29" font-size="20.40" stroke="#3c3c3c" stroke-width="0.35" stroke-linejoin="round" fill="#3c3c3c" textLength="12.94" lengthAdjust="spacingAndGlyphs">7</text>
<text x="751.39" y="327.42" font-size="20.40" stroke="#3c3c3c" stroke-width="0.35" stroke-linejoin="round" fill="#3c3c3c" textLength="12.66" lengthAdjust="spacingAndGlyphs">8</text>
<text x="751.14" y="282.55" font-size="20.40" stroke="#3c3c3c" stroke-width="0.35" stroke-linejoin="round" fill="#3c3c3c" textLength="12.94" lengthAdjust="spacingAndGlyphs">9</text>
<text x="743.55" y="237.68" font-size="20.40" stroke="#3c3c3c" stroke-width="0.35" stroke-linejoin="round" fill="#3c3c3c" textLength="20.22" lengthAdjust="spacingAndGlyphs">10</text>
<text x="743.42" y="192.81" font-size="20.40" stroke="#3c3c3c" stroke-width="0.35" stroke-linejoin="round" fill="#3c3c3c" textLength="20.53" lengthAdjust="spacingAndGlyphs">11</text>
<text x="743.53" y="147.94" font-size="20.40" stroke="#3c3c3c" stroke-width="0.35" stroke-linejoin="round" fill="#3c3c3c" textLength="20.43" lengthAdjust="spacingAndGlyphs">12</text>
<text x="743.55" y="103.07" font-size="20.40" stroke="#3c3c3c" stroke-width="0.35" stroke-linejoin="round" fill="#3c3c3c" textLength="20.22" lengthAdjust="spacingAndGlyphs">13</text>
<text x="743.56" y="58.20" font-size="20.40" stroke="#3c3c3c" stroke-width="0.35" stroke-linejoin="round" fill="#3c3c3c" textLength="20.02" lengthAdjust="spacingAndGlyphs">14</text>
<text x="763.39" y="535.10" font-size="20.00" stroke="#3c3c3c" stroke-width="0.35" stroke-linejoin="round" fill="#3c3c3c" textLength="39.55" lengthAdjust="spacingAndGlyphs">0.00</text>
<text x="841.85" y="535.10" font-size="20.00" stroke="#3c3c3c" stroke-width="0.35" stroke-linejoin="round" fill="#3c3c3c" textLength="39.03" lengthAdjust="spacingAndGlyphs">5.00</text>
<text x="914.41" y="535.10" font-size="20.00" stroke="#3c3c3c" stroke-width="0.35" stroke-linejoin="round" fill="#3c3c3c" textLength="49.63" lengthAdjust="spacingAndGlyphs">10.00</text>
<text x="992.99" y="535.10" font-size="20.00" stroke="#3c3c3c" stroke-width="0.35" stroke-linejoin="round" fill="#3c3c3c" textLength="48.89" lengthAdjust="spacingAndGlyphs">15.00</text>
<text x="1071.16" y="535.10" font-size="20.00" stroke="#3c3c3c" stroke-width="0.35" stroke-linejoin="round" fill="#3c3c3c" textLength="49.53" lengthAdjust="spacingAndGlyphs">20.00</text>
<text x="1149.36" y="535.10" font-size="20.00" stroke="#3c3c3c" stroke-width="0.35" stroke-linejoin="round" fill="#3c3c3c" textLength="49.53" lengthAdjust="spacingAndGlyphs">25.00</text>
<text x="1228.12" y="535.10" font-size="20.00" stroke="#3c3c3c" stroke-width="0.35" stroke-linejoin="round" fill="#3c3c3c" textLength="48.60" lengthAdjust="spacingAndGlyphs">30.00</text>
<text x="997.58" y="572.00" font-size="21.30" stroke="#3c3c3c" stroke-width="0.35" stroke-linejoin="round" fill="#3c3c3c" textLength="39.75" lengthAdjust="spacingAndGlyphs">mm</text>
<text transform="translate(727.60,368.10) rotate(-90)" x="-1.31" y="-0.50" font-size="22.88" stroke="#3c3c3c" stroke-width="0.35" stroke-linejoin="round" fill="#3c3c3c" textLength="185.24" lengthAdjust="spacingAndGlyphs">Fermi Energy (eV)</text>
<circle cx="849.4" cy="113.1" r="6.0" fill="url(#dot)"/>
<circle cx="842.6" cy="174.3" r="6.0" fill="url(#dot)"/>
<circle cx="807.3" cy="186.5" r="6.0" fill="url(#dot)"/>
<circle cx="847" cy="194.2" r="6.0" fill="url(#dot)"/>
<circle cx="790.1" cy="225.3" r="6.0" fill="url(#dot)"/>
<circle cx="849.4" cy="230.8" r="6.0" fill="url(#dot)"/>
<circle cx="820.3" cy="238.1" r="6.0" fill="url(#dot)"/>
<circle cx="879.3" cy="243.5" r="6.0" fill="url(#dot)"/>
<circle cx="796" cy="249.6" r="6.0" fill="url(#dot)"/>
<circle cx="812.1" cy="254.8" r="6.0" fill="url(#dot)"/>
<circle cx="799.5" cy="272" r="6.0" fill="url(#dot)"/>
<circle cx="846.6" cy="276.3" r="6.0" fill="url(#dot)"/>
<circle cx="809.1" cy="281.1" r="6.0" fill="url(#dot)"/>
<circle cx="818.6" cy="288.9" r="6.0" fill="url(#dot)"/>
<circle cx="852.6" cy="321.8" r="6.0" fill="url(#dot)"/>
<circle cx="907.5" cy="325.4" r="6.0" fill="url(#dot)"/>
<circle cx="938.1" cy="330.6" r="6.0" fill="url(#dot)"/>
<circle cx="875.6" cy="338.3" r="6.0" fill="url(#dot)"/>
<circle cx="827.2" cy="349.9" r="6.0" fill="url(#dot)"/>
<circle cx="800.8" cy="353.4" r="6.0" fill="url(#dot)"/>
<circle cx="876.7" cy="356" r="6.0" fill="url(#dot)"/>
<circle cx="797" cy="367.6" r="6.0" fill="url(#dot)"/>
<circle cx="842.5" cy="371.1" r="6.0" fill="url(#dot)"/>
<circle cx="848.3" cy="406.5" r="6.0" fill="url(#dot)"/>
<circle cx="1131" cy="417.7" r="6.0" fill="url(#dot)"/>
<circle cx="949.5" cy="426" r="6.0" fill="url(#dot)"/>
<circle cx="1244.6" cy="448.75" r="6.0" fill="url(#dot)"/>
<circle cx="1176.25" cy="471.7" r="6.0" fill="url(#dot)"/>
<text x="800.03" y="80.30" font-size="18.30" stroke="#8e8e8e" stroke-width="0.45" stroke-linejoin="round" fill="#8e8e8e" textLength="21.38" lengthAdjust="spacingAndGlyphs">Sn</text>
<text x="861.35" y="87.70" font-size="18.30" stroke="#747474" stroke-width="0.45" stroke-linejoin="round" fill="#747474" textLength="18.55" lengthAdjust="spacingAndGlyphs">Tl</text>
<text x="795.10" y="131.50" font-size="18.30" stroke="#747474" stroke-width="0.45" stroke-linejoin="round" fill="#747474" textLength="19.19" lengthAdjust="spacingAndGlyphs">Al</text>
<text x="872.32" y="158.70" font-size="18.30" stroke="#747474" stroke-width="0.45" stroke-linejoin="round" fill="#747474" textLength="22.69" lengthAdjust="spacingAndGlyphs">Pb</text>
<text x="944.00" y="142.00" font-size="18.30" stroke="#6a6a6a" stroke-width="0.45" stroke-linejoin="round" fill="#6a6a6a" textLength="23.19" lengthAdjust="spacingAndGlyphs">W</text>
<text x="877.65" y="210.70" font-size="18.30" stroke="#747474" stroke-width="0.45" stroke-linejoin="round" fill="#747474" textLength="26.85" lengthAdjust="spacingAndGlyphs">Os</text>
<text x="939.03" y="201.50" font-size="18.30" stroke="#8e8e8e" stroke-width="0.45" stroke-linejoin="round" fill="#8e8e8e" textLength="25.12" lengthAdjust="spacingAndGlyphs">Re</text>
<text x="945.53" y="244.00" font-size="18.30" stroke="#747474" stroke-width="0.45" stroke-linejoin="round" fill="#747474" textLength="25.96" lengthAdjust="spacingAndGlyphs">Zn</text>
<text x="834.70" y="261.50" font-size="18.30" stroke="#747474" stroke-width="0.45" stroke-linejoin="round" fill="#747474" textLength="25.72" lengthAdjust="spacingAndGlyphs">A&#956;</text>
<text x="867.72" y="283.80" font-size="18.30" stroke="#747474" stroke-width="0.45" stroke-linejoin="round" fill="#747474" textLength="23.37" lengthAdjust="spacingAndGlyphs">Ni</text>
<text x="1013.16" y="283.80" font-size="18.30" stroke="#747474" stroke-width="0.45" stroke-linejoin="round" fill="#747474" textLength="19.34" lengthAdjust="spacingAndGlyphs">Pt</text>
<text x="919.03" y="291.70" font-size="18.30" stroke="#747474" stroke-width="0.45" stroke-linejoin="round" fill="#747474" textLength="27.29" lengthAdjust="spacingAndGlyphs">Co</text>
<text x="820.32" y="300.50" font-size="18.30" stroke="#747474" stroke-width="0.45" stroke-linejoin="round" fill="#747474" textLength="17.42" lengthAdjust="spacingAndGlyphs">In</text>
<text x="864.84" y="308.70" font-size="18.30" stroke="#747474" stroke-width="0.45" stroke-linejoin="round" fill="#747474" textLength="27.22" lengthAdjust="spacingAndGlyphs">Cd</text>
<text x="794.68" y="327.80" font-size="18.30" stroke="#747474" stroke-width="0.45" stroke-linejoin="round" fill="#747474" textLength="23.66" lengthAdjust="spacingAndGlyphs">Cr</text>
<text x="988.41" y="328.20" font-size="18.30" stroke="#747474" stroke-width="0.45" stroke-linejoin="round" fill="#747474" textLength="20.52" lengthAdjust="spacingAndGlyphs">Ta</text>
<text x="897.00" y="346.80" font-size="18.30" stroke="#747474" stroke-width="0.45" stroke-linejoin="round" fill="#747474" textLength="25.31" lengthAdjust="spacingAndGlyphs">Ag</text>
<text x="946.45" y="383.50" font-size="18.30" stroke="#747474" stroke-width="0.45" stroke-linejoin="round" fill="#747474" textLength="23.67" lengthAdjust="spacingAndGlyphs">Pd</text>
<text x="919.15" y="407.80" font-size="18.30" stroke="#747474" stroke-width="0.45" stroke-linejoin="round" fill="#747474" textLength="24.78" lengthAdjust="spacingAndGlyphs">Ru</text>
<text x="895.23" y="422.30" font-size="18.30" stroke="#747474" stroke-width="0.45" stroke-linejoin="round" fill="#747474" textLength="18.72" lengthAdjust="spacingAndGlyphs">Ti</text>
<text x="1208.84" y="430.20" font-size="18.30" stroke="#858585" stroke-width="0.45" stroke-linejoin="round" fill="#858585" textLength="20.13" lengthAdjust="spacingAndGlyphs">Sc</text>
<text x="784.85" y="429.50" font-size="18.30" stroke="#747474" stroke-width="0.45" stroke-linejoin="round" fill="#747474" textLength="21.82" lengthAdjust="spacingAndGlyphs">Cu</text>
<text x="1094.89" y="448.30" font-size="18.30" stroke="#858585" stroke-width="0.45" stroke-linejoin="round" fill="#858585" textLength="29.70" lengthAdjust="spacingAndGlyphs">Nb</text>
<text x="990.08" y="460.80" font-size="18.30" stroke="#747474" stroke-width="0.45" stroke-linejoin="round" fill="#747474" textLength="22.65" lengthAdjust="spacingAndGlyphs">Zr</text>
<text x="898.34" y="463.80" font-size="18.30" stroke="#747474" stroke-width="0.45" stroke-linejoin="round" fill="#747474" textLength="23.11" lengthAdjust="spacingAndGlyphs">Tc</text>
<text x="793.62" y="472.10" font-size="18.30" stroke="#747474" stroke-width="0.45" stroke-linejoin="round" fill="#747474" textLength="29.21" lengthAdjust="spacingAndGlyphs">Mo</text>
<text x="854.17" y="479.50" font-size="18.30" stroke="#747474" stroke-width="0.45" stroke-linejoin="round" fill="#747474" textLength="22.83" lengthAdjust="spacingAndGlyphs">Hf</text>
<text x="1142.48" y="479.10" font-size="18.30" stroke="#858585" stroke-width="0.45" stroke-linejoin="round" fill="#858585" textLength="11.48" lengthAdjust="spacingAndGlyphs">Y</text>
</g>
</svg></body></html>
